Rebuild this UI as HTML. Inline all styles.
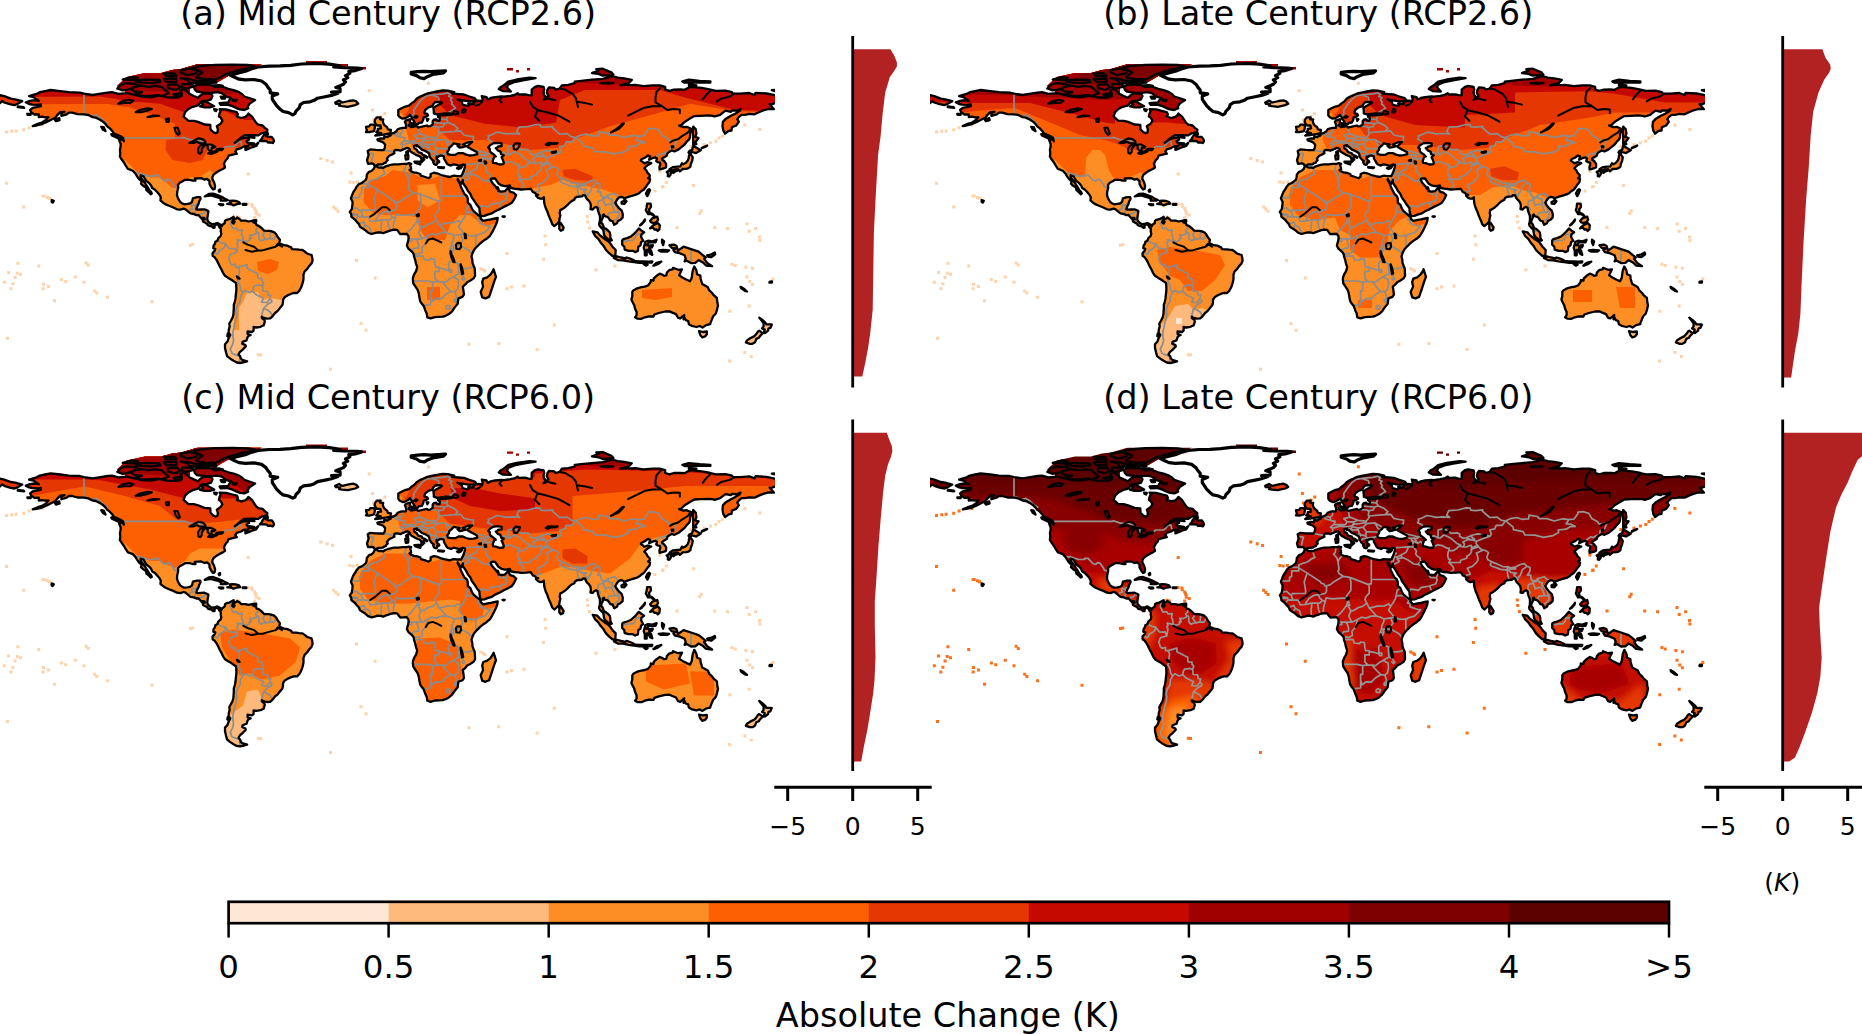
<!DOCTYPE html><html><head><meta charset="utf-8"><title>Absolute Change (K)</title>
<style>html,body{margin:0;padding:0;background:#fff}body{width:1862px;height:1034px;overflow:hidden}svg{display:block}text{font-family:"DejaVu Sans","Liberation Sans",sans-serif;fill:#000}</style></head><body>
<svg width="1862" height="1034" viewBox="0 0 1862 1034">
<defs>
<path id="land" fill-rule="evenodd" d="M50.6,90 60.3,91.1 68.9,92.2 79.7,92.6 84,93.7 92.6,95 99,93.9 107.6,92.6 111.9,92.2 118.4,93.9 127,93.2 135.6,95.2 142.1,96.7 150.7,97.3 155,96.5 159.3,95.4 167.9,97.5 176.5,97.5 180.8,96.7 181.9,93.9 180.2,90.7 184.1,88.7 187.3,91.7 189.4,93.9 193.8,96 198.1,97.8 200.2,95.6 203.4,93.5 211,93.5 212.5,96 211,99.3 206.7,100.8 202.4,100.8 200.2,102.9 198.1,105.3 192.7,106.8 188.4,109 185.1,112.2 183.6,116.5 188.4,120.8 193.8,120.8 198.1,121.9 204.5,124.5 210.3,124.9 210.5,129.4 213.1,132 215.3,133.1 217.4,132.6 217.9,129.4 216.8,126.2 220.7,123.6 222.4,120.8 220.7,117.6 218.9,116.5 219.6,113.3 220.7,111.1 219.6,109.2 226,109.4 232.5,111.1 236.8,112.2 237.9,114.3 236.8,116.5 241.1,118 245.4,116.9 247.6,114.8 248.4,113.5 251.9,116.5 254,119.7 256.2,122.9 258.3,124.7 262.6,125.5 264.8,127.9 267.4,129.8 266.9,132 261.6,133.3 258.3,135.4 251.9,135.2 244.3,135.4 241.1,137.6 236.8,141.2 234.7,142.8 239,139.7 243.3,138 248.6,137.6 249.1,139.5 246.5,141.2 248,143.4 250.8,144.5 255.1,145.1 258.3,142.8 256.2,146 251.9,147.3 248.6,148.8 245.4,149.9 245.4,147.7 248.6,146 243.3,146.6 241.1,148.1 236.8,149.4 235.3,151.6 236.8,153.7 233.6,154.4 228.6,155.7 228.2,156.5 227.5,158.5 226,159.8 225,161.7 223.9,163.8 224.3,164.9 225,167.5 222.8,169 219.6,170.5 217,172 213.6,174.6 212.5,176.8 212.3,178.9 214,182.1 215.1,185.8 214.6,189 213.1,189.5 211.4,187.5 209.5,183.9 209.5,181.1 207.1,178.9 204.5,179.6 201.3,178.1 198.1,178.3 194.8,178.5 195.5,180.6 192.7,180.6 189.4,179.8 185.1,179.8 183,181.1 179.8,182.8 178,184.7 178.2,187.7 177.2,191.8 177,195.5 178.2,198.7 180.2,202 181.9,203.2 184.1,204.3 187.3,203.9 189.9,203.5 192,202 192.9,198.3 197,197.2 200.2,197.2 200.6,198.7 199.1,201.5 198.5,204.1 197.4,205.8 196.3,209.1 197.6,209.7 201.3,209.5 204.5,209.3 208,210.8 208.4,211.4 207.7,215.5 207.3,218.7 207.7,220.9 209.9,223 212,224.3 215.3,223.7 217.4,223 220.7,224.8 221.7,226.3 222.2,225 224.8,223 225,220.9 226.5,219.8 229.3,219.2 232.1,217.7 233.6,216.8 234,218.7 232.9,220.2 236.4,218.5 237.2,217.5 240,219.4 241.1,220.7 245.4,220.7 248.6,221.5 253,220.5 254.2,220.5 253,222 256.2,223.7 256.6,225.2 258.8,225.8 261.6,228 264.1,230.6 268.7,230.8 271.2,231.2 274.3,232.3 276.2,234.2 277.7,237 279.9,239.8 279.4,242.4 279.9,243.5 283.1,244.8 284.2,245.2 287.4,245.7 291.1,247.4 292.1,249.1 296,249.3 299.2,249.7 302.5,250 304.6,251.5 307.2,253.6 310,254.5 311.5,254.9 312.2,257.5 312.6,260.7 311.5,263.5 309.1,266.1 307.2,268.9 304.6,271.5 303.5,274.7 303.5,279 302.9,282.2 301.8,285.7 300.7,288.3 299.2,290.9 297.1,293 293.9,293 291.3,293.7 287.8,295.2 284.6,297.3 283.1,299.5 282.9,302.7 282.4,305.1 279.9,308.1 277.7,310.9 275.1,313 272.5,316.3 270.2,318.4 266.9,318.6 263.1,317.6 261.8,316.7 261.8,318 264.4,319.9 264.8,321.6 263.7,325.3 260.5,326.8 256.2,327.5 253.6,327 253.6,330.7 251.9,332 247.6,331.3 247.6,333.9 250.6,335 248.6,335.9 247.6,337.1 246.5,340.4 242.6,341.9 242.2,343.6 245.4,345.1 245.8,346.4 242.2,350.1 240,351.8 238.5,354.4 240.2,356.3 240.7,358.2 242.2,359.8 247.1,361.3 244.3,362.1 240,363 236.8,362.5 233.6,360.8 230.3,358.7 227.1,356.1 226,352.2 225,347.9 225,344.2 227.5,341.5 228.6,338.2 230.3,335 228.6,332.8 228.8,329.6 229.7,326.4 229.3,323.6 230.8,321 232.5,317.8 233.4,314.5 233.6,311.3 233.8,308.1 233.8,304.9 234.9,301.6 235.5,298.4 235.9,294.1 236.4,289.8 236.2,284.4 235.9,282.9 234,281.6 231.4,279.7 228.2,277.9 225,275.8 223.2,273.2 221.5,269.5 219.6,266.1 218.1,262.9 216.4,259.6 214.2,256.8 212.7,256 212.5,253.2 214.6,250.8 215.3,248.9 213.3,248.2 213.6,245.7 215.1,243.5 215.3,241.8 217.4,240.7 218.3,238.1 220.7,236 221.3,233.8 220.7,231.2 220.9,228.9 219.8,227.8 218.9,226.3 217.9,224.3 215.9,224.6 214.4,225.8 214.6,227.6 213.1,227.8 211.6,226.3 209.2,225.8 207.7,225 207.3,223.9 204.9,222.6 203,221.5 202.8,219.8 200.9,217.7 199.1,215.7 198.5,214.9 196.3,215.1 193.8,214 190.5,213.4 188.8,212.1 185.6,209.3 183.6,208.6 180.4,209.7 177,209.3 173.3,207.5 169,205.8 165.1,204.1 162.5,202.2 160.4,200.4 160.8,197.4 159.7,195.1 157.6,192.5 155,189.7 152.2,188 151.1,185.4 149.2,183.2 146.4,181.1 144.7,178.3 143.6,176.3 140.6,175.3 140.6,177.2 143.2,180.6 145.3,183.7 147.5,186.9 149.2,190.1 151.1,191.8 151.8,193.6 150.7,194.2 149,192.3 146.4,190.1 146,187.5 143.2,185.8 141,183.7 141.7,181.5 138.9,178.9 137.1,176.3 135.4,173.5 132.8,170.7 130.2,169.7 127.9,169 125.3,164.9 123.8,162.3 121,158.5 119.9,156.5 120.3,153.1 119.9,149.9 120.6,146.6 120.6,143.8 119.3,140.6 119,139.3 122.7,139.5 123.8,141.2 123.1,138 120.6,136.3 117.3,134.8 114.1,133.7 112.4,131.1 109.8,128.3 107,126.2 105.5,124 103.3,121.9 100.1,119.7 95.8,117.6 92.6,117.1 88.3,115 84,114.3 77.5,114.1 72.1,112.6 68.9,112.6 66.7,114.3 61.4,115.8 61.4,112.8 64.6,111.8 60.3,112.2 57,115.4 55.5,117.6 50.6,120.1 46.3,122.3 40.9,124.5 36.6,125.5 32.7,126 37.7,123.8 42,122.5 46.3,119.7 48.4,117.1 45.2,117.3 42,116.7 38.8,117.1 38.8,114.3 34.4,114.5 31.2,112.2 30.1,110 32.7,107.9 36.6,107.2 40.9,106.2 40.9,104.4 37,104.9 32.3,104.6 29.1,104 25.8,102.3 30.1,100.8 34.4,100.1 38.8,100.8 35.5,98.6 33.4,97.1 29.1,96.2 32.3,95.2 36.6,93.9 39.8,92.2 45.2,91.1Z M368.1,163.8 367,160.2 368.6,155.2 367.7,150.9 370.3,149.4 375.7,149.9 380,150.1 383.6,150.1 384.9,147.7 385.1,144.5 382.8,142.1 377.8,140.4 377.4,139.3 381,138.4 384.1,138.7 384.3,136.5 387.5,137.2 387.9,136.5 390.7,135.4 390.9,133.9 394,132.8 396.1,131.6 397.6,129.4 400.4,128.3 402.6,127.9 405.8,127.9 406.2,126.2 405.8,124 404.9,121.9 405.8,120.6 409,119.5 410.3,119.3 409.7,121.9 410.8,122.9 409,124.7 408.6,125.5 410.8,126.6 411.2,127.2 413.8,126.6 416.6,126.2 418.3,127.5 421.9,126.6 426.9,125.5 428,126.4 430.1,126.2 432.7,124.5 432.7,121.2 433.8,119.7 436.2,119.3 437.4,120.8 439.4,120.8 440,118 438.1,116.9 438.1,115.8 441.3,115.4 447.8,115.2 452.1,114.5 449.5,113.3 445.6,113.3 441.3,113.9 437,114.5 433.8,113.3 433.8,111.1 433.4,107.9 435.9,106.2 440.2,104 442,102.5 439.6,101.8 435.3,102.1 433.4,104 432.3,106.2 428.4,107.4 425.2,110 424.5,112.2 424.7,113.3 427.3,113.9 428,115.4 426.2,116.5 423.7,117.3 423.2,119.7 421.9,122.5 418.7,122.9 418.1,124.2 415.5,124.2 414.8,122.9 414.4,121.9 412.9,119.7 411.6,116.9 410.3,115.8 410.1,114.8 408,116.7 404.7,118.4 402.6,118.6 399.8,117.3 398.3,115.4 398.3,112.2 398.3,110 401.5,108.3 404.7,106.8 409,105.7 411.2,103.6 414.4,101.4 416.6,98.8 419.8,96.7 423,95.4 427.3,93.5 431.6,92.6 437,91.5 442.8,90.4 447.8,90.7 454.2,92.2 452.1,93.5 458.5,94.1 463.9,94.5 469.3,96.5 474.7,98.2 476.2,99.9 473.6,101 469.3,101.4 462.8,100.3 458.5,99.7 457.5,99.3 461.8,101.8 462.4,104.6 467.2,105.9 469.3,105.1 468.2,103.6 473.6,104.2 473.6,101.8 477.9,100.6 482.2,101 482.7,99.3 481.8,96.2 486.5,97.1 487.6,99.5 490.8,98 495.1,97.1 501.6,96.5 503.8,96.7 510.2,95.8 514.5,95 517.7,93.2 518.8,94.5 525.3,94.3 528.5,95.2 531.7,95.4 531.7,93.7 531.7,91.3 531.7,89.6 535,86.8 538.2,85.9 543.6,87 544.2,89.6 543.6,91.7 544,95 546.2,97.1 543.6,99.7 546.8,98.6 548.5,96 546.8,92.8 547.5,89.6 549,87.4 554.3,87.9 555.4,89.6 559.7,88.5 561.9,85.3 568.3,84.8 574.8,83.1 574.8,81.6 581.2,80.8 592,79.7 602.8,78.8 612,76.2 617.8,77.7 624.3,78.4 631.8,79.9 628.6,83.1 620,85.3 624.3,84.6 631.8,85.1 635.1,84.8 643.7,86.1 652.3,85.3 659.8,85.3 665.2,86.8 665.2,89.6 669.5,90.9 673.8,89.6 680.3,89.4 684.6,89.8 688.9,87.4 691,86.8 701.8,87.9 710.4,89.6 715.8,90.9 725.5,90.7 731.9,92.2 733,93.7 740.6,93.7 749.2,93 754.5,95 755.6,92.8 766.4,93.5 775,95.2 779.3,96.2 785.8,98.6 790.1,99.3 797.2,101.2 792.2,104 789.6,105.1 784.7,104.2 779.3,102.5 777.2,101 775,103.1 771.8,104.4 769.6,104.2 772.8,107.9 773.9,109.2 768.5,109 763.2,110.5 758.9,112.2 754.5,114.3 749.2,113.9 744.9,114.8 741.6,114.8 739,116.9 737.3,119.1 738.8,121.9 736.2,125.5 731.9,127.2 731.5,130.5 728.7,130.9 725.1,133.7 723.3,130.5 722.5,126.2 722.9,121.9 725.5,119.1 730.9,115.8 735.2,113.7 739.5,111.1 740.6,109 737.3,110.7 731.9,110.5 730.9,111.8 725.5,110.7 720.1,114.8 714.7,116.5 712.6,115.8 708.3,115.4 700.7,115.8 694.3,116.1 690,118.6 684.6,121.9 681.4,125.1 679.2,125.7 683.5,127.2 686.7,126.8 690,128.3 691.9,129 691,130.9 690.2,133.7 690,136.9 689.3,139.1 686.7,141.7 684.6,144.5 681.4,147.1 678.6,149.4 674.5,151.4 671.7,150.5 669.1,152 667.4,153.5 666.7,155.7 663.7,157.4 662,158.7 662,159.5 664.1,161 666.1,163.8 666.1,166 665.9,167.5 664.1,168.2 662,168.8 659.6,169.4 659.4,167.1 660.3,164.5 660,162.6 657.7,162.1 656.2,161 657,158.5 655.3,157.4 652.3,158.2 649.1,159.8 650.1,156.3 648,155.5 644.8,157.8 641.5,159.3 640.9,160.6 643.2,162.3 644.3,163.4 647.6,162.1 651.2,163.2 648,164.9 646.5,166 644.3,168.2 646.3,170.3 647.6,172.9 649.7,175 649.7,177 648,178.1 650.1,179.1 649.5,182.1 647.6,184.3 645.4,187.5 643.7,189.7 641.5,191 639.4,192.9 637.2,194.2 633.6,195.3 630.8,196.1 627.5,197.2 625.4,197.9 624.7,199.8 623.7,197.6 621.1,196.8 618.9,197.6 617.2,199.4 615.3,202.6 616.8,205.4 618.9,208 621.7,210.6 622.8,214.4 622.6,217.7 620.4,219.8 617.8,221.1 617.2,223 614.2,224.8 613.1,222.4 612.5,221.1 610.3,220.7 608.8,218.3 607.5,217 604.7,216.2 603.9,214.4 602.8,215.1 602.8,217.7 601.7,219.8 601.1,222.6 602.6,224.1 603.4,226.3 604.1,228 606,228.9 607.7,230.2 609.7,232.3 610.3,234.9 610.3,237.5 611.8,240.3 610.5,240.7 608.2,239.2 605.6,237.3 604.1,234.9 603.6,231.7 603.2,229.5 601.9,228.4 599.5,225.8 599.1,224.1 599.8,221.3 600,218.3 599.8,215.5 598.9,213.4 598,210.6 597.6,208 596.1,206.9 594.2,207.8 592.7,209.5 590.5,209.1 590.9,205.8 590.3,203 589,200.9 587.3,199.4 586,197.6 585.1,195.3 583,195.1 581.9,196.4 579.1,196.6 576.9,196.8 574.8,198.3 574.4,199.8 571.6,201.1 569.4,203 567.3,205.2 564.7,207.5 562.3,209.1 560.2,210.1 559.7,213.4 560.4,215.3 559.5,218.7 559.3,221.3 557.6,223.3 556.1,224.6 554.3,226.1 552.2,224.1 551.1,220.9 549.6,217.7 548.3,214.4 547.2,211.2 545.7,208 544.7,204.8 544.2,202.6 544,199.4 543.8,197.2 542.9,198.3 540.3,198.7 538.2,197.9 536,195.7 538.2,194.8 536,194.2 535,192.9 532.8,192 531.7,190.1 530.7,188.8 526.4,189.2 521,189.5 517.7,189 514.1,188.6 510.9,188 509.8,185.4 507,186 504.8,186.2 501.6,185.4 498.4,183.4 496.9,181.1 495.1,178.5 492.8,178.3 490.8,178.9 490.8,180 492.1,182.6 494.1,184.9 495.6,186.5 496.9,188.6 497.7,187.3 498.6,189.2 498.4,191 501.6,191.6 504.8,191.2 507,189 508.5,187.1 509.1,189.7 510.2,191.8 513.4,192.7 516.2,195.1 514.1,199.4 511.9,202.6 510.2,203.7 507,205.4 503.8,206.9 499.9,209.1 495.1,211.2 491.9,213.4 487.6,214.7 484.4,215.9 481.1,216.2 480.1,213.8 479.6,211.2 479.4,208 476.8,204.8 474.7,201.5 471.9,197.6 470.4,194 467.8,190.8 466.1,187.5 463.9,184.3 462.8,182.8 462.8,180 461.8,182.8 461.3,183.7 459.6,182.1 457.7,178.9 457.7,180 459.6,183.2 460.7,186.5 462.8,190.8 464.4,194 466.9,196.1 467.8,198.7 467.8,202.6 470.4,204.8 472.1,209.1 473.6,211.2 476.2,213.4 478.8,215.5 480.7,216.8 480.7,218.7 483.3,220.9 486.5,220.2 490.8,219.4 495.1,218.5 497.7,217.9 497.3,220.9 496.2,224.1 494.1,228.4 491.9,232.7 489.8,236 486.5,238.8 483.3,240.9 480.1,243.5 477.9,245.7 475.8,247.8 474,250 472.5,253.2 471.5,256.4 472.3,259.6 472.5,262.9 473.6,265.7 474.7,268.3 474.9,271.5 475.1,275.8 473.6,278.4 470.4,280.5 467.2,282.2 465.4,284.4 462.8,286.6 463.5,290.9 463.9,294.7 462.4,296.9 458.5,298.4 458.1,300.5 457.7,303.8 456,305.9 454.2,308.1 452.1,311.3 448.9,314.1 445.6,315.8 442.8,316.7 439.2,316.9 434.9,317.1 430.6,318.4 427.3,317.3 426.7,313.5 425.2,310.2 423.7,305.9 421.9,303.8 420.2,301.2 419.4,297.3 418.7,293 417.6,289.8 415.5,286.6 413.3,283.3 412.9,280.1 412.9,277.9 414,274.7 416.1,271.1 417.2,267.2 415.9,263.3 415.1,259.6 414,256.4 413.8,254.3 412.9,252.8 411.2,251 408.6,248.9 406.9,245.7 407.5,243.1 408.2,240.9 408.6,238.1 408.4,236 406.7,233.8 403,234 400.4,234.2 399.1,232.7 397.2,229.9 394,229.7 390.7,230.4 388.6,231.2 385.3,232.3 383.2,233.2 380.6,232.5 377.8,232.3 374.6,233.2 371.4,234 368.1,232.7 364.9,229.9 362.7,228.6 359.9,226.7 358.9,224.1 356.3,221.3 355.2,219.8 353.1,218.1 351.3,216.6 351.3,214.4 349.8,211.9 351.8,209.1 352.4,204.8 352.6,202 350.9,198.3 352.4,194.4 353.5,191.8 355.6,188.6 356.5,186.9 358.9,184.1 361.7,183 363.8,181.5 366,179.6 366.6,177.2 366.8,174.6 369,171.8 371.4,171 373.5,169.2 374.8,166.4 376.1,166.2 378.9,167.7 381.3,167.5 383.2,167.9 385.3,166.6 388.1,165.6 390.7,164.9 394,164.3 398.3,164.3 402.6,163.8 406.4,163.8 409,163.2 411.2,163.8 410.1,165.4 410.8,167.1 411.2,169.2 409.5,169.9 411.2,171.4 414.4,172.7 416.1,172.7 420.2,174 420.9,175.7 425.2,177 428.4,178.3 430.6,176.8 430.6,174 433.8,172.7 437,173.3 441.3,175 445.6,176.1 449.9,177 452.1,176.1 454.2,175.7 457,176.1 461.1,176.1 462.6,173.5 463.9,170.3 464.8,167.1 465,164.9 462.8,164.5 459.6,165.8 456.4,164.9 453.4,164.3 451,165.6 447.8,164.5 446.3,162.8 445.2,160.6 443.9,158.5 443.9,157 443.5,156.1 441.3,155.5 439.2,155.9 438.1,157 436.6,156.5 436.6,158.9 437.7,160 439.2,161.3 439.2,162.3 437.4,161.9 437.4,163.2 436.6,164.7 435.7,164.9 434.2,164.3 433.1,162.1 433.8,161 432.3,160 431,158.5 429.5,156.3 429.3,154.2 428.4,152.7 425.2,150.9 421.9,149.6 419.8,147.7 418.1,146.2 416.8,146.4 417,145.1 414,145.8 414.2,148.1 416.8,149.9 418.1,152.2 421.9,153.3 421.9,154.4 425.2,155.7 427.3,157.2 426.9,157.8 424.1,156.3 423.2,158.2 424.3,159.5 423,160.8 421.9,161.9 421.3,161.5 421.5,159.5 420.9,157.4 419.4,156.1 418.1,155.7 415.5,154.6 413.8,153.5 411.2,152 410.1,150.9 409.5,149 408,148.1 406.4,147.9 404.7,149 403.2,149.4 400.4,150.7 398.3,150.1 396.1,149.9 394.4,150.5 394.2,152.2 394.4,153.3 392.2,154.4 389.2,155.7 387.5,157.8 386.9,158.7 387.7,160.2 386.2,161.5 385.8,162.6 383.6,163.4 382.8,164.3 378,164.5 376.1,165.8 374.2,165.1 373.5,163.8 371.6,163.4 368.6,163.8Z M-8.6,93.5 0,95.2 4.3,96.2 10.8,98.6 15.1,99.3 22.2,101.2 17.2,104 14.6,105.1 9.7,104.2 4.3,102.5 2.2,101 0,103.1 -3.2,104.4 -5.4,104.2 -2.2,107.9 -1.1,109.2 -6.5,109 -11.8,110.5 -12.9,101.4Z M255.1,100.1 249.7,103.6 247.6,106.8 248.2,108.3 244.3,110 240,109.4 236.8,108.3 232.5,106.2 227.1,104.6 220.7,104.9 219.6,103.1 228.2,102.5 229.3,100.3 231.4,98.2 226,96.5 221.7,93.2 217.4,92.2 212,92.8 204.5,92.8 197,91.7 194.8,89.6 193.8,86.3 198.1,84.6 204.5,84.6 211,84.8 214.2,86.8 219.6,86.3 222.8,86.8 228.2,88.9 233.6,90.2 239,92.2 242.2,94.3 244.3,96.5 250.8,98.6Z M161.5,96 169,93.2 165.8,90.7 161.5,86.8 155,85.9 148.5,86.8 141,85.7 133.5,87.2 131.3,89.6 134.5,91.5 142.1,92.2 135.6,93.9 137.8,95.2 143.2,96 150.7,95.8 157.2,95.2Z M117.3,88.5 120.6,84.8 125.9,83.1 134.5,83.8 138.9,85.3 131.3,88.5 127,89.8 122.7,90.4Z M215.3,79.5 219.6,77.7 225,74.5 232.5,72.1 241.1,69.6 249.7,68 255.1,66.3 247.6,65 232.5,64.6 215.3,64.8 200.2,66.1 191.6,68 198.1,70.2 202.4,72.4 198.1,75.2 195.9,77.7 204.5,79Z M180.8,70.2 189.4,68.7 198.1,70.6 195.9,73.4 187.3,75.2 180.8,72.4Z M180.8,78.2 189.4,78.8 195.9,81 204.5,80.5 215.3,80.8 216.4,82.7 208.8,83.1 198.1,83.1 189.4,82.7 187.3,79.9Z M181.9,84.2 192.7,84.2 192.7,86.8 186.2,88.5 181.9,87.4Z M167.9,84.6 177.6,84.6 179.8,87.4 175.5,90 167.9,88.1Z M135.6,80.3 146.4,79.5 159.3,79.9 160.4,82 150.7,83.1 142.1,82.5 135.6,81.6Z M163.6,78.8 176.5,78.6 176.5,82 165.8,81.6Z M122.7,79.5 131.3,77.1 137.8,77.7 133.5,79.9Z M163.6,73.4 174.4,73.4 176.5,76 165.8,76Z M173.3,94.5 180.8,93.2 181.9,95.8 175.5,96Z M200.2,101.8 205.6,101.4 211,104.4 214.2,106.2 209.9,107.4 204.5,107.4 200.2,106.4 203.4,104.6Z M259.8,141 261.6,139.1 262.6,136.9 264.8,134.1 267.4,132.4 268,134.4 265.9,135.9 268,136.9 271.7,136.9 273.4,139.1 274,141.2 272.8,143 270.2,142.3 268,142.5 266.9,141.2 263.7,141Z M111.3,134.1 116.2,134.8 118.8,136.5 121.6,138.4 121.6,139.5 118.4,138.4 115.2,136.9 111.9,135.4Z M101.2,126.8 103.8,127.2 105.5,131.1 102.7,129.4Z M54.9,119.7 59.2,118 59.6,120.1 56,121.2Z M204.7,196.4 208.8,194 213.1,193.6 217.4,195.1 221.7,196.8 225,198.7 227.8,200 226,200.7 220.7,200.7 221.3,199.2 218.5,197.6 214.2,196.4 211,195.5 207.7,195.9Z M227.3,203.9 231.4,204.3 233.6,205.4 236.8,204.1 240.2,203.7 239,202 235.7,200.9 232.5,200.7 229.7,200.9 231,202.6 229.3,203.5Z M218.9,204.1 223.2,204.3 223.2,205 220.7,205.2Z M242.8,203.9 246.3,203.9 246.3,204.8 242.8,204.8Z M335.2,102.5 339.1,100.6 342.3,102.5 348.8,101 353.1,100.3 356.3,101.4 358.2,103.6 355.2,105.1 347.7,106.8 342.3,106.2 339.1,105.7 340.1,104 335.8,103.8Z M375.2,135.6 380,135.2 384.3,134.4 390.3,133.5 390.9,130 387.9,129.4 387.1,127.2 384.3,125.1 383.2,122.9 382.8,120.8 383.2,119.5 380,119.3 380.6,117.3 376.7,117.3 375,119.7 374.6,121.9 375.7,124 377.2,125.5 380.4,125.5 381,128.3 377.8,128.8 377.8,130.5 376.3,132 380,132.8 381,133.1 377.8,133.7Z M366,132 369.2,132.2 373.9,131.1 374.6,128.8 375,126.2 373.5,124.7 370.3,124.7 369.2,126.4 366,126.8 366.4,128.8 367,130.5Z M498.8,89.1 502.7,91.1 510.9,91.5 507,87.4 508.1,84.6 514.5,82 523.1,80.3 535.6,78.2 529.6,77.7 516.7,79.5 508.1,81.6 503.8,85.3 500.5,87.2Z M592,73 598.5,70.6 596.3,69.1 602.8,68.7 611.4,72.4 613.5,74.7 602.8,75.6 598.5,73.9Z M682.4,81.4 688.9,79.7 699.7,80.8 710.4,81.4 710.4,82.5 699.7,82.3 688.9,82.5 684.6,82.7Z M688.9,84.4 696.4,85.3 693.2,85.9 688.9,85.5Z M771.8,90.2 778.2,89.6 780.4,90.7 775,91.1Z M693.2,126.6 695.8,129.4 696.4,133.7 695.3,136.9 698.6,138 695.3,142.3 696.4,144 693.2,144.5 693.2,140.2 693.2,135.9 692.8,131.6Z M689.5,154.2 692.1,152 696,153.1 700.7,150.3 698.1,148.8 693.2,145.8 692.1,149.9 689.5,150.9 688.5,152.4Z M690.8,154.4 692.8,157.4 692.1,161 690.8,164.1 690.4,166.6 688.5,168.2 686.3,168.8 682.4,169 682,169.7 679.8,171.4 678.1,169.2 674.9,169.4 671.7,170.5 669.5,170.3 669.5,169.2 672.7,167.1 677,166.6 680.3,166.4 682,163.2 683.1,164.3 685.7,163 687.8,160.6 688.9,157.4 688.9,155.7Z M669.3,170.5 671.2,171.8 670.6,174.6 669.1,176.5 667.8,176.1 668,173.5 666.7,172Z M672.7,170.3 677,169.9 677,171 674.9,171.6 673.4,172.9 672.3,171.6Z M649.1,189.2 650.1,190.1 648,195.1 647.3,196.1 646,193.6 647.6,190.3Z M621.5,202 625.4,200.2 626.5,201.3 624.3,203.9 621.7,203.7Z M647.1,203.7 650.6,203.7 651,206.9 649.1,209.5 649.5,212.7 652.3,213.8 654.4,215.9 652.9,215.5 651.2,214 648,214 647.1,212.3 645.8,210.1 646.5,208Z M650.1,228.4 653.4,225.2 657.7,223 659.8,225.2 659.4,229.5 657.7,231 656.6,229.5 654.4,229.5 652.9,227.4Z M652.3,218.3 657.2,216.6 658.1,219.8 656.6,222 653.4,223 651.2,222.4 650.1,220.9Z M640,225.4 643.2,222 645,219.4 644.5,221.3 641.5,224.6Z M622.2,240.3 623.4,239.2 627.1,238.1 630.8,236.6 634,233.8 636.1,231.7 638.9,228.4 641.5,230.6 644.1,232.3 641.5,234.2 641.1,237 643.2,240.9 641.1,242 640.5,245.2 638.3,246.7 637.9,251 635.1,252.1 632.9,250.8 628.6,250.8 624.7,249.7 624.3,246.7 622.2,244.6 622.2,242.4Z M592.7,231.4 597.4,232.3 599.5,234.9 602.8,237.5 604.9,239.2 608.2,241.3 610.3,243.5 612.5,246.7 615.7,250 615.3,256 612.5,256 609.2,253.2 606,250 603.4,245.7 600.6,242.4 598.5,239.2 595.2,236Z M614,258.1 616.8,256.4 621.1,257.5 625.4,258.4 626.5,257.5 630.1,258.6 634,260.3 633.8,262.2 628.6,261.4 623.2,260.3 617.8,260.1Z M645.4,241.8 648,240.7 652.3,241.3 656.6,239.8 655.5,242.4 649.1,242.4 646.3,245.2 649.1,245.7 652.9,245.2 651.9,247.4 649.1,247.8 651.2,251 652.3,254.9 650.1,253.8 648,250 646.7,250 646.7,255.3 644.8,255.3 644.8,251 643.7,247.8Z M669.5,245.2 673.8,244.6 676.4,245.7 678.1,250.6 683.5,246.7 691,249.1 698.6,251.7 701.8,254.3 705.7,257.5 704,258.6 707.2,262.9 712.1,266.1 706.1,265.5 702.9,262.4 698.6,260.1 695.3,262.9 691,263.1 686.7,260.7 684.6,261.4 685.7,258.6 684.6,255.3 679.2,253 674.9,252.1 673.4,250 675.5,248.5 671.7,247.8Z M653.4,265.7 656.6,262.9 661.3,261.6 657.7,264.2 654.4,265.5Z M635.1,261.2 639.4,261.4 643.7,261.4 648,261.6 652.3,261.4 651.9,262.7 645.8,262.7 639.4,262.9 635.5,262.4Z M643.7,264 647.6,264.8 645.8,265.7Z M662,239.6 664.1,241.3 663.1,245.2 662,242.4Z M658.8,250.4 663.1,250 669.1,250.4 667.4,251.5 660.9,251.5Z M707.2,255.3 711.5,254.3 714.7,252.5 715.2,254.3 711.5,257.1 708.3,256.8Z M559.3,222.6 560.4,222.6 563.6,227.4 563,229.7 560.8,230.8 559.3,228.9 559.3,225.6Z M493.6,269.3 496,276.9 494.7,280.1 493.6,283.3 491.5,289.8 489.1,296.9 485.5,298.4 482.2,297.3 480.7,291.9 483.1,286.6 482.2,282.2 483.3,278.6 487.2,277.3 490.4,274.7 492.6,271.5Z M633.3,290.4 637.2,288.3 641.5,287.2 644.8,286.6 648,285.5 650.6,282.2 650.8,280.1 653.4,280.7 653.8,278.4 656.6,275.8 659.8,273.6 662.6,274.7 663.7,275.8 666.3,275.4 666.9,272.6 669.1,270.2 672.7,269.3 673,267.8 678.1,269.8 682,269.3 680.3,272.6 679.2,275.4 682.4,277.5 686.7,279.7 690,281.2 691.7,277.9 692.3,273.6 692.8,270.4 694.3,266.5 696.4,270.4 697.1,274.3 700.3,275.6 700.7,279 702.2,284 705,285.5 707.8,287.2 709.3,290.4 712.1,293 713.6,295.2 716.9,298 717.3,302.3 718,305.3 716.9,310.2 715.8,313.5 713.2,316.3 711.9,319.3 710.4,323.2 710.2,324.2 706.1,325.1 702.5,327.5 699.7,326 696.4,327 692.1,326 688.9,324.2 688.2,321 685.7,320.1 684.6,317.8 683.5,319.3 684.2,315 680.3,318.4 678.1,317.8 676,314.1 671.7,312.4 669.5,311.3 665.2,311.5 658.8,313 654.4,314.5 653.4,316.5 649.1,316.3 644.8,317.3 641.5,318.8 637.2,318.6 635.1,317.3 636.6,315.2 636.6,312 635.1,308.7 634.2,305.1 632.9,302.7 631.4,299.5 632.3,296.2 632.3,291.9Z M699,331.1 702.9,332 706.8,331.5 706.8,334.3 705,336.5 702.2,337.4 700.3,335Z M759.3,317.6 762.7,320.1 765.3,322.5 766.4,324.4 770.7,324.4 771.8,324.7 770.3,327.9 768.5,328.5 768.1,330.7 764.9,333.1 763.8,332.4 764.7,329.6 762.1,328.5 763.6,326.4 763.6,323.2 761,319.9Z M759.3,330.7 762.7,333.3 759.9,336.1 758.9,337.8 756.3,338.9 755,342.3 752.4,343.8 749.8,343.8 745.9,342.5 747,340.4 750.2,338.2 754.5,336.1 756.7,333.5 758.2,331.3Z M740.6,286.8 743.8,288.7 747,291.5 744.9,290.9 741,288.1Z M769.6,281.8 772,281.4 771.8,282.7 769.4,282.7Z M51.7,200 53.8,200.9 52.7,202.6 51.7,202Z M414.4,161.7 421.1,161.3 420.2,164.5 415.5,163Z M405.2,155.5 408.4,155.2 408.2,159.1 405.8,159.5Z M406.2,152 408,150.9 408,153.9 406.4,153.9Z M438.1,167.1 444.1,167.5 443.5,168.2 438.3,167.7Z M457,168.2 459.6,167.3 462,166.6 460.7,168.2 458.5,169Z M411.2,123.6 414.4,122.9 414.4,124.7 412.3,125.1Z M426.7,118.9 428.4,119.1 427.3,120.8Z M502.5,216.4 504.8,216.4 503.8,217Z M254.5,220.5 256.2,220.2 256.2,221.8 254.5,221.8Z M218.7,190.5 220,189.5 220.2,191.4 219.2,191.8Z M227.8,333.5 229.3,333.9 229.1,336.9 227.3,336.1Z M248.6,136.1 254,137.2 254.5,137.8 250.8,137.4Z M249.1,142.8 254,143.4 253,144.5 249.7,143.8Z M220.7,96.7 225,97.1 225,98.6 221.7,98.6Z M213.1,85.3 219.6,85.1 222.8,85.9 215.3,87Z M214.2,109.2 216.8,109.6 216.1,111.1 214.6,110.5Z M17.9,106.4 23.7,107.2 24.1,107.9 17.7,107.2Z M27.3,113.9 30.8,113.7 30.6,114.8 27.6,114.8Z M701.8,147.7 707.2,145.5 706.1,146.4 701.8,148.3Z M493,143.4 497.3,142.8 501.6,143.4 501.6,146 497.9,146.6 497.3,147.7 495.8,148.1 497.9,150.5 500.5,151.6 501.2,154.2 503.8,155.2 501.6,157.4 502.7,159.5 503.8,162.8 503.3,164.1 499.4,164.5 495.8,163.2 493,162.8 492.8,160.8 494.1,157 495.8,156.5 493.4,154.2 490.8,152.4 489.8,150.9 489.8,148.8 488.2,147.5 489.8,145.5Z M447.8,154.2 447.3,152 448.9,149.9 449.3,147.7 451.4,146 453.8,143.4 456.4,144 459.6,144.5 457.5,145.8 459.6,147.7 462.8,147.1 466.1,146.2 462.8,144.5 468.2,142.3 472.1,141.9 469.3,144.5 468.2,145.5 467.2,146.4 468.2,147.3 471.5,149.2 474.3,150.7 476.8,152 477.3,154.2 473.6,155.2 469.3,155.5 466.1,154.6 462.8,153.1 458.5,153.1 455.3,154.8 451,154.8Z"/>
<path id="nodata" d="M292.8,114.8 288.5,112.6 283.1,111.5 279.9,109 276.6,105.7 274.5,102.5 272.3,99.3 272.3,96 277.7,93.9 270.2,92.8 270.2,90 268,87.4 265.9,84.2 261.6,81 254,79.5 245.4,79.9 239,79.2 234.7,77.3 230.3,75.2 236.8,73.4 245.4,71.3 251.9,68.7 258.3,67 269.1,66.1 279.9,65.9 290.6,65.3 301.4,64 316.5,63.5 329.4,64.2 340.1,65.9 333.7,67 344.4,67.6 357.4,68 361.7,68.5 355.2,70.6 348.8,71.3 349.8,73.4 345.5,75.6 347.7,77.7 343.4,79.9 345.5,82 343.4,84.2 340.1,85.7 335.8,87.4 340.1,88.5 340.1,90.7 340.1,91.7 331.5,92.2 338,93.2 331.5,95.4 325.1,96.7 317.5,98.2 314.3,100.3 310,101.8 303.5,102.5 300.3,104.6 299.2,107.9 296,111.1 294.9,113.7Z M411.2,72.4 417.6,71.7 424.1,71.3 430.6,71.7 445.6,70.8 443.5,72.8 432.7,74.5 427.3,76.7 424.1,78.6 419.8,77.7 416.6,75.6 411.2,73.9Z"/>
<path id="fillx" d="M117,86 127,77 145,73 161,73 172,70 181,69 198,64 262,64 252,69 230,75 218,82 200,84 190,84 190,99 125,99 125,90Z"/>
<path id="lakes" d="M189.4,143 194.8,140.2 198.1,138.4 202.4,139.1 205.2,141.2 205.6,143.4 202.4,143.2 199.1,143 197,141.7 193.8,143Z M198.5,153.1 198.1,148.8 200.2,145.5 203.4,144.5 204.5,145.5 201.7,148.8 201.7,152 200.2,153.7Z M205.6,144.5 211,144.5 215.3,146.6 214.2,147.7 211.6,147.7 211.6,150.5 209.9,150.9 207.7,148.8 207.7,146.2Z M208.2,153.5 212,153.9 217.4,151.6 216.4,151.1 212,151.8 208.8,152.7Z M215.9,150.3 221.7,150.3 223.2,148.8 219.6,148.8 216.4,149.4Z M118.4,103.6 122.7,101 129.2,99.7 133.5,100.8 130.2,102.9 124.9,102.9Z M135.6,112.2 139.9,110 147.5,108.3 151.8,109 146.4,110.9 141,112.2Z M174.4,127.7 177.6,127.7 179.8,133.7 178,135 175.5,131.6Z M147.5,117.1 152.8,115.6 159.3,115.8 152.8,116.5Z M456,244.6 457.5,242.9 460.7,243.1 461.1,246.7 459.6,249.3 456.4,248.9Z M450.6,251 451.7,254.3 453.6,258.6 454.7,262.2 453.4,262 451.4,257.5 450.4,253.2Z M460.7,264.2 462.2,268.3 463.3,273.6 462,274.1 461.1,269.3 460.5,265Z M611,132.4 614.6,130.9 618.9,128.8 622.2,125.5 623.9,123.4 622.2,123.8 618.9,127.2 615.7,129.4 612,131.8Z M545.7,144.5 549,142.8 553.3,143.2 557.6,143 556.5,143.8 551.1,144 547.9,145.3Z M513.4,145.5 515.6,143.2 519.9,143.6 519.2,146.6 516.7,149.6 513.9,149.2Z M452.5,113.7 454.2,110.9 458.1,112 458.1,113.7 455.3,114.5Z M461.8,112.2 463.5,108.7 465.6,110 465,112.2 463.5,112.6Z M414.2,117.3 415.9,115.8 417.6,116.7 415.9,117.8Z M236.8,276.4 238.3,277.1 239.6,278.6 237.9,278.4Z M202.6,217.7 204.5,217.9 204.9,219.4 203,219Z M416.6,214.9 418.7,214.2 418.9,215.9 417.2,216.4Z M464.6,233.6 465.6,234.2 466.3,238.1 465,238.1Z M551.5,152.2 556.1,151.4 555.8,152.4 552.2,152.9Z M484.4,161.3 485.9,161.5 486.3,163.4 485,163.6Z M478.8,160.4 481.1,159.8 480.9,161 479.2,161Z M165.8,119.1 169,118.6 168.8,121.9 166.6,121.9Z M232.5,99.7 236.8,99.9 235.7,101.2 232.9,101Z M600.6,83.1 607.1,82.7 613.5,83.1 607.1,83.8Z M671.7,146.2 673.4,146.2 673.4,147.5 671.9,147.5Z M232.9,220.2 234.7,222 233.6,223.7 232.1,222.4Z"/>
<path id="rivers" d="M278.8,244.6 275.6,246.7 269.1,248.5 262.6,250.4 258.3,250.4 251.9,251.7 245.4,250 M258.3,250.4 254,246.7 247.6,244.6 243.3,242.4 M275.6,246.7 277.7,243.9 M282,246.7 278.8,244.6 M530,101.6 532.8,106.8 538,110.2 546.8,112.2 557.4,115.2 564,118.6 569.4,121.7 M537.1,111.1 535,116.5 539.3,120.8 M544.7,96 546.8,98.2 551.1,99.3 555.4,100.3 M565.1,89.6 569.4,92.2 572.6,93.9 575.9,98.2 576.9,102.3 578,107 M576.9,101.8 585.6,103.1 592,104.6 M559.7,88.5 565.1,89.6 M660.5,87.6 656.6,91.7 655.5,97.1 655.5,102.3 662,106.2 667.4,110 673.8,109 679.8,109.4 679.8,113.3 M662,106.2 652.3,106.2 644.3,107.7 635.1,112.2 628.2,115.6 M690.6,128.8 687.8,132.6 682.4,135.9 678.1,139.1 672.7,140.8 670.2,142.5 M734.1,93.9 729.8,96.5 721.2,98.6 716.9,101.4 M710.4,90.7 706.1,95 702.9,99.3 M425.8,243.5 428.4,239.6 432.7,238.5 437,240.3 441.3,242.4 M370.3,216.6 374.6,213.8 378.9,210.1 382.1,207.3 386.4,207.3 389.7,210.1 M482.2,101.8 479,104.6 475.8,105.7 M501.6,97.5 499.4,100.3 501.6,102.5"/>
<path id="borders" d="M84,93.7 84,113.7 88.3,114.3 91.5,116.5 95.8,115 100.1,117.6 104.4,121.9 107.6,123.4 106.6,125.7 M122.3,138 182.6,138 183.4,137.4 189.4,139.5 194.8,140.2 198.1,139.7 204.9,142.8 207.7,144.5 209.9,146 210.3,150.9 208.8,153.1 217.4,151.4 217.4,149.9 222.8,148.8 226,146.6 233.6,146.6 235.7,145.1 236.8,143.4 238.5,141.5 241.1,141.7 241.5,144.9 243.3,146.6 M135.4,173.5 140.4,173.3 148.5,176.1 154.6,176.1 154.6,175 158.2,175 162.5,179.8 165.8,181.1 167.3,179.3 170.1,179.8 173.3,184.3 174.4,186.7 178.2,187.7 M189,212.1 189.4,210.8 190.1,209.1 192.7,208.8 191.6,206.5 191.6,205.2 195.5,205.2 197.4,203.7 M195.5,205.2 195.5,209.3 197.6,209.7 M193.5,213.8 195.3,212.5 195.5,209.3 M198.7,215.5 200.9,213.8 203,213.6 204.9,211.6 208.4,211.4 M203,219.6 207.3,220 M209,226.1 209.7,222.8 M219.8,227.8 221.1,225 M234,218.1 231.4,219.8 230.3,223.7 231.9,226.3 232.5,228.4 236.8,228.4 237.9,230.4 242.2,230.2 241.5,233.8 242.6,236.4 243.3,240.9 237.2,239.8 237.9,242.2 236.8,243.5 237.9,245.7 236.8,252.5 M217.4,240.7 219.6,241.8 221.7,242.9 225,243.5 225.4,243.7 229.3,248.5 231.4,248.7 235.1,248.5 236.8,252.5 230.3,254.3 228.8,258.6 230.3,263.3 232.1,265 235.5,264 235.5,267.2 237.9,267.2 239.6,270.4 239,274.7 237.9,276.9 239,279 237.7,281.2 240,285.5 240.7,289.8 242.8,292.6 240.5,296.2 240,301.6 237.2,305.9 236.2,310.2 236.8,314.5 236.2,318.8 234.7,323.2 234,327.5 232.9,331.8 232.9,336.1 233.6,340.4 232.5,344.7 230.3,349 231.9,353.3 236.8,355.4 240.2,356.3 M214.6,250.8 214.6,253 216.8,254.3 218.5,253.2 218.9,250.8 222.4,249.1 225,246.7 225.4,243.7 M239.8,357 239.8,361.7 M237.9,267.2 241.1,266.5 246.9,264.6 246.9,268.3 251.9,270.8 255.1,272.6 257.7,273.6 257.9,278.4 262,278.6 262,280.7 263.7,282.7 262.6,286.1 260.3,285 254.7,285.7 253.4,287.6 252.7,291.3 249.1,292.6 244.8,290.4 242.8,292.6 M252.7,291.3 256.2,294.7 261.6,297.3 263.5,298.2 261.6,302.1 265.9,302.5 267.4,302.3 270,298.6 270.6,295.4 268.2,295.2 267.6,291.5 263.1,291.1 262.6,286.1 M270,298.6 271.7,300.5 271.7,302.1 267.4,304.6 263.5,308.5 262.2,313.5 261.8,316.7 M263.5,308.5 266.9,309.8 270.2,312 272.5,316 M243.3,240.9 246.5,241.8 249.7,240.3 249.3,238.1 251.2,238.5 249.7,234.9 252.3,235.3 256.2,233.8 256.8,232.3 255.5,230.6 257.7,228.4 258.3,225.6 M256.8,232.3 258.3,232.7 258.8,234.2 258.8,238.5 260.9,240.7 264.8,239.4 265.9,239.4 270.2,238.5 274,238.8 276.2,234.5 M264.1,230.6 264.4,232.7 262.6,234.9 263.7,236.4 265.9,239.4 M271.2,231.2 270.4,233.8 270.2,238.5 M382.8,167.9 383.8,171.4 384.9,174 381,175.7 379.5,177.2 376.7,178.9 372.4,180 368.8,181.7 368.8,184.5 377.2,189.7 390.1,198.1 391.4,199.8 394.4,200.9 394.6,202.6 396.5,202.4 400,201.5 403.6,198.7 413.3,192.9 M368.8,183.9 359.1,183.9 M368.8,184.5 368.8,187.5 361.7,187.5 361.7,193.1 359.5,194 359.5,197.6 350.9,197.6 M377.2,189.7 374.2,198.3 375.7,208 375.4,210.1 367.5,210.1 364.5,210.3 362.7,209.9 361.2,211.6 359.5,210.6 356.3,207.8 352,209.1 M406,164.1 405.2,169.2 403.6,170.7 406.9,174.6 408,178.3 408.6,182.6 409,186.5 408,187.5 409,190.1 413.3,192.9 419.8,194 439.2,201.5 439.2,200.4 441.3,200.4 441.3,196.1 441.3,175.5 M408,178.3 409.7,175 412.3,172.2 M441.3,196.1 466.9,196.1 M419.8,194 420.9,198.3 420.9,206.9 416.6,212.3 416.6,214.4 409,214.9 402.6,215.5 396.1,214.4 395.2,218.3 M396.5,202.4 396.5,208 395,210.1 389.7,211.2 387.9,211.2 383.2,212.3 378.9,215.1 375.7,219.8 375.7,221.1 370.3,221.5 368.1,216.8 363,216.8 361.2,211.6 M387.9,211.2 389.7,214.4 392.5,217 395.2,218.3 393.5,224.1 393.3,229.7 M375.7,221.1 381.5,219.8 387.5,219.8 389.7,219.8 392.5,217 M381.5,232.5 381,226.3 381.7,223 381.5,219.8 M390.1,230.4 388.6,226.3 387.5,219.8 M358.9,224.1 363.8,222 365.3,225.2 369.6,227.4 371.4,234 M363,216.8 358,216.4 355.2,219.8 M351.3,214.2 355.2,213.8 357.8,214.7 355.2,215.1 351.3,215.1 M362.7,228.6 365.3,225.2 M416.6,214.4 418.1,216.6 416.6,222 413.3,226.3 411.2,229.1 406.9,232.7 406,233.6 M418.1,216.6 419.8,222 417.6,222 420.9,227.4 418.7,232.7 421.9,238.8 415.9,238.8 411.8,238.8 408.6,238.5 M411.8,238.8 411.8,241.3 408.6,241.3 M439.2,201.5 439.2,209.7 435.9,213.4 434.9,216.2 436.8,219.8 432.7,223 428.4,224.1 424.1,226.9 420.9,227.4 M436.8,219.8 439.2,224.8 442,227.4 446.5,232.7 441.3,232.7 435.9,234.7 431.6,233.8 427.5,236 425.8,243.5 421.9,247.8 422.4,252.1 418.7,254 415.5,253.4 413.8,256 M421.9,238.8 427.5,236 M411.4,251.9 413.3,248.5 418.5,247.8 418.5,244.6 417.4,240.7 415.9,238.8 M439.2,224.8 447.3,222.8 454.2,222.6 458.5,220.5 460.7,223 458.5,226.7 462.8,231.9 465,234 460.7,234.5 454.2,235.5 451,234 446.5,232.7 M460.7,223 462.8,219.8 465.4,215.5 466.1,212.7 467.2,206.9 470.4,204.8 M466.1,212.7 469.3,212.1 473.6,212.3 478.8,216.6 477.5,219.8 480.1,219.8 480.1,223.5 488.7,226.3 490.8,226.3 484.4,232.7 477.9,234.5 477.7,235.1 472.5,236 469.3,235.8 465,234 M480.1,219.8 480.7,218.7 M477.7,235.1 475.8,237 475.8,245.2 477.1,247.2 M460.7,234.5 462.8,239.8 460.7,243.1 460.5,245.7 468.7,250.2 471.9,253.6 M454.2,235.5 453.8,238.3 452.1,241.8 451.2,246.5 449.9,249.5 450.8,253 M451.2,246.5 453.2,245.7 460.5,245.7 M453.2,245.7 453.8,248.7 453.2,251 450.8,253 M449.9,249.5 453.8,248.7 M454.7,262 458.3,263.7 460.7,264 M462,268.5 467.2,268.5 470.4,268 474.5,266.1 M413.8,256 415.5,256.2 423.2,256.2 424.1,259.6 429.5,260.3 430.6,258.6 434.4,259.2 434.9,264 435.5,267.2 439.2,267.2 440,268.3 442,268.5 445.4,269.3 448.6,270.4 449.9,272.3 451.7,272.3 451.7,269.8 448.9,269.3 448.6,263.5 449.7,261.8 453.6,261.2 M439.2,267.2 439.2,271.5 434.9,271.5 434.9,278.4 437.9,281.4 M412.9,280.7 417.6,281 427.3,281 432.7,282.2 437.9,281.4 442,281.8 445.6,282.2 449.5,279 452.9,277.1 458.1,279.5 458.5,284.4 457.5,289.4 454.9,291.7 456.4,296.2 456.4,301.2 458.3,301.4 M432.7,282.2 432.7,290.9 430.6,290.9 430.6,296.9 430.6,304.6 425,305.3 423,305.1 M430.6,296.9 432.1,301.4 436.4,298.4 441.3,298.8 445.4,294.5 450.8,291.3 454.9,291.7 M450.8,291.3 447.1,287.6 442,281.8 M452.9,277.1 459,273.6 458.5,268.3 458.3,263.7 M459,273.6 461.8,274.7 464.8,279 463.3,280.1 461.3,277.9 M445.6,307.2 447.8,305.3 450.6,306.4 449.5,308.9 446.7,308.9 445.6,307.2 M454.2,299 456.4,299.5 456.2,302.1 454.2,301.6 454.2,299 M461.1,176.1 462.6,180 M368.6,153.3 373.5,153.7 372.4,157.4 371.6,161.7 371.6,163.4 M383.6,150.1 394.4,152.2 M392.9,133.5 396.5,135.9 400.4,136.9 405.2,138 403.9,141 400.4,143.8 402.6,144.7 402.6,148.3 403.6,149.2 M394.8,132.8 400.4,133.7 400.4,135.4 400.4,136.9 M402.6,128.8 402.6,131.6 400.4,133.7 M418.3,127.5 419.1,131.6 419.8,133.7 413.8,135.2 417.2,138.4 415.5,141.2 408.2,141.2 403.9,141 M406,125.3 408.6,125.5 M402.6,144.7 410.1,142.8 417,143.4 417,145.1 M408.2,141.2 410.1,142.8 M417.2,138.4 424.1,138.4 422.2,142.5 417,143.4 M419.8,133.7 428,136.9 436.2,137.8 439.2,134.1 438.3,131.6 439,127.5 437,126.6 430.1,126.2 M424.1,138.4 428,136.9 M422.2,142.5 424.5,140.2 428,140.6 435.1,139.3 436.8,140.2 433.1,143.8 428,144.7 423,143.4 M436.2,137.8 435.1,139.3 M436.8,140.2 444.8,139.5 448.2,145.5 451.4,146 M444.8,139.5 452.1,143.6 M436.4,148.3 445.6,148.6 449.1,149.4 M433.1,143.8 436.4,148.3 435.7,152.4 437,154.6 M416.8,145.5 420.4,145.5 423,143.4 M428,144.7 428.4,146.8 421.5,146.2 421.9,149.6 M428.4,146.8 429.5,149.9 427.3,152 M429.5,149.9 431.2,151.4 435.7,152.4 M429.3,153.3 431.2,151.4 M430.6,158 432.7,155.5 437,154.6 444.1,153.7 443.5,155.7 M444.1,153.7 447.8,153.1 M411.6,116.7 414,113.3 413.8,110 417.6,104.6 421.9,99.3 426.2,96 431.6,95 438.5,97.3 439.2,101.8 M431.6,95 443,93.9 447.8,92.8 449.9,94.5 453.8,93.5 M449.9,94.5 448.9,96.5 452.1,97.8 450.4,99.7 452.3,102.1 451.4,104 453.2,105.3 455.5,108.1 447.3,113.3 M447.8,115.4 446.5,119.5 439.8,118.9 M446.5,119.5 448.2,122.5 444.8,123.6 432.7,122.7 M444.8,123.6 443,126.6 438.1,127.5 436.6,126.4 M448.2,122.5 454.2,125.1 457.9,128.3 455.1,131.3 438.3,132.6 M455.1,131.3 460.7,130.9 463.9,135 469.3,136.1 473.6,136.7 473.2,140.4 469.7,142.1 M465,165.6 466.5,164.3 469.3,164.1 478.6,163.4 483.9,163.4 482.7,158.7 483.9,158 487.6,159.8 490.8,158 492.8,160.8 M476.8,154.2 481.1,155 481.6,157.2 483.9,158 M481.1,155 487.6,155 487.6,153.3 491.9,153.5 M473.6,150.1 481.1,151.6 487.6,153.3 M481.1,155 484.4,154.8 487.6,159.8 M478.6,163.4 476.2,168.8 471,171.6 471.9,174.2 467.2,175.7 469.3,177.8 468.2,178.9 465,180.6 462.8,180.2 M471,171.6 466.7,174 464.4,173.1 463.9,175.7 462.8,180 M464.8,169 466.3,169.9 464.4,171.8 M471.9,174.2 474.5,174.8 477.9,176.5 483.7,180.6 487.6,180.9 490.2,182.1 491.7,182.1 M483.9,163.4 485.2,166 486.5,167.7 485.7,170.3 487,172.5 490.2,174.6 490.2,176.8 491.9,178.9 M487.6,180.9 489.8,178.9 490.8,178.9 M479.6,208.2 480.7,205.8 483.3,206 488.7,206.9 490.8,204.3 499.4,202.6 505.9,200.4 507.2,196.1 506.3,194.6 500.5,194 498.6,191.4 M506.3,194.6 507.6,191.4 508.7,189.9 M499.4,202.6 501.8,207.8 M503.5,163.2 508.1,161.5 512.4,162.3 516.7,164.7 519.2,164.7 518.8,166.9 518,169.7 517.7,172.5 518.6,175.7 520.5,175.9 518.8,179.3 522.7,182.8 523.6,184.9 523.6,186.2 520.1,189.2 M518.8,179.3 530.2,179.1 530.7,176.8 536.7,174.8 537.1,172.5 538.8,171.8 540.6,170.1 541.6,167.7 541,166 548.7,163.4 545.3,162.8 541.6,164.5 541.4,161.9 538.6,162.6 536.7,163.6 533.5,163.4 530.7,163 528.9,162.8 526.4,165.4 523.1,167.3 519.2,166.9 M501.6,152.9 504.2,152.4 508.1,154.6 510.2,154.6 513.7,151.6 516.7,152.7 520.8,154.8 526.4,159.8 530.7,161.7 530.7,163 M508.1,154.6 508.1,146.6 513.7,145.3 518.8,147.9 521,149.9 527.4,149.4 529.8,150.9 529.6,153.1 533.9,155 536,154.4 539.5,153.1 540.3,152.4 545.7,150.9 548.3,150.5 551.1,151.1 560.2,152.7 553,155.2 546.4,157.8 546.2,160.4 548.7,163.4 M533.5,163.4 534.5,160.6 532.8,158.5 536,157 539.3,155.7 546.4,157.8 M536,154.4 540.3,156.7 544.7,155.7 540.3,152.4 M493,143.8 491.9,141.2 487.6,139.3 488.7,137.6 488.2,135.9 492.1,134.6 496.9,132.2 500.5,132.6 505.9,133.9 513.4,133.5 519.7,134.1 516.7,131.6 518.8,127.2 527.9,126.6 536,124.5 540.1,124.7 540.8,126.8 545.7,127.2 552.8,126.4 552.2,127.5 559.7,134.1 567.3,133.7 571.1,136.7 575.4,137.6 572.2,141.9 566.2,141.9 564.7,145.5 559.7,146.6 561.4,150.5 560.2,152.7 M575.4,137.6 580.6,135.2 586.6,134.1 592,135.9 598.5,135.6 599.1,131.8 607.5,133.1 609.2,135.2 616.8,135.2 624.3,137.6 632.9,135.4 638.7,136.3 644.1,135.6 647.8,130.3 648,128.8 653.6,128.3 658.8,130 662,135.4 667.4,138.2 669.5,140.8 677.5,139.5 676,141.9 674,146.4 670.2,147.1 669.9,150.3 668.7,152.2 666.7,152 663.1,154.2 660.7,153.5 655.3,157.4 M576.5,137.8 578,139.5 583.2,143.8 583.4,146.2 593.1,148.3 595,151.6 604.9,151.8 613.5,153.9 623.2,152.2 628.6,149.2 628.2,146.6 636.1,145.8 640.5,143.2 645.4,143 641.1,140.8 636.1,140.6 638.7,136.3 M659,162.1 663.9,160.4 M620,197.2 617.2,196.1 614.2,193.3 607.3,195.3 606.4,197.9 603,197.2 601.1,195.7 600.6,191.8 597.4,191.8 600,187.7 600,184.1 597,182.8 594.2,180.2 590.3,181.1 585.6,183.7 584.7,183.7 579.1,184.7 578.7,183.2 577.2,183.4 572.6,183.2 568.3,181.1 561.9,178.5 557.6,176.1 556.9,173.3 558.6,169.2 555.4,167.1 551.1,166 548.7,163.4 M579.1,184.7 579.5,185.8 585.6,185.6 585.6,183.7 M559.9,181.5 561.9,182.8 566.8,184.5 570.5,186 577.2,186.7 577.2,183.4 M559.9,181.5 561.9,178.5 M534.3,192.5 540.3,190.8 537.3,184.9 542.3,183 546.6,178.9 548.1,176.5 547.7,173.1 546.4,169.7 552.8,166.9 M577.2,186.7 579.1,187.1 580.8,189 586.4,189.7 583.8,191.6 586.2,194 586.8,197.6 M577.2,186.7 577.6,190.8 579.1,196.1 M597,182.8 592.4,186.2 590.3,191.8 588.4,194 586.8,197.6 M603,199.8 598.5,201.1 597.8,205.2 600.4,209.1 598.9,211.2 601.1,216.6 600.2,221.1 M603,197.2 603,199.8 603.9,201.5 605.4,205.8 607.3,204.3 611.4,204.1 613.1,208 614.8,212.3 609.2,212.7 607.9,214.4 609,218.3 M606.4,197.9 605.4,197.2 603,199.8 M618.9,211.9 618.9,216.6 615.7,219.8 612.5,221.1 M614.8,212.3 618.9,211.9 M607.3,195.3 609.2,198.7 612.5,199.4 611.4,201.5 614,203.5 616.8,206.9 618.9,211.9 M603,229.7 605.1,231.2 607.3,230.2 M623.4,239.2 625.4,241.6 628.6,240.5 632.5,240.5 635.1,237.9 636.1,234.2 640.7,234.5 M691,249.1 691,263.1 M654.7,263.7 656.8,263.3"/>
<clipPath id="cl"><use href="#land" clip-rule="evenodd"/><use href="#fillx"/></clipPath>
<filter id="bl" x="-5%" y="-5%" width="110%" height="110%"><feGaussianBlur stdDeviation="3"/></filter>
<clipPath id="box"><rect x="0" y="40" width="775" height="350"/></clipPath>
</defs>
<rect width="1862" height="1034" fill="#fff"/>
<g transform="translate(0,0)" clip-path="url(#box)">
<g clip-path="url(#cl)">
<rect x="-40" y="0" width="855" height="430" fill="#fd8e25"/>
<path fill="#fc6003" d="M0,45 300,45 300,140 275,145 250,157.5 232.5,170 221.2,177 215,175 210,170 200,177 190,177 181.2,188 172.5,188 160,177.5 150,177.5 138.8,173.5 125,160 0,160Z"/>
<path fill="#fc6003" d="M402.5,45 776.2,45 776.2,145 700,145 677.5,157.5 660,170 651.3,180 642.5,191.2 622.5,196.2 605,190 592.5,187.5 580,183.8 562.5,180 550,185 530,188.8 522.5,200 510,215 500,222.5 485,226.2 480,215 472.5,200 465,187.5 460,175 450,167.5 442.5,165 435,165 427.5,157.5 420,150 412.5,147.5 408.8,140 405,125 402.5,115Z"/>
<path fill="#fc6003" d="M363.8,190 370,180 385,176.2 392.5,170 410,172.5 427.5,180 442.5,175 460,180 470,190 475,205 485,215 482.5,225 470,215 460,215 450,225 445,240 427.5,240 420,230 417.5,217.5 405,215 385,215 372.5,212.5 363.8,202.5Z"/>
<path fill="#fd8e25" d="M417.5,185 435,183.8 440,200 427.5,207.5 417.5,200Z"/>
<path fill="#fc6003" d="M257,262 270,259 279,262 277,270 268,274 258,271Z"/>
<path fill="#fc6003" d="M427,287 440,287 440,300 427,300Z"/>
<path fill="#fc6003" d="M642,290 672,288 672,297 655,300 642,298Z"/>
<path fill="#e53702" d="M0,104.5 82.5,104 107.5,104 130,107.5 150,113.8 175,123.8 175,138.8 166.2,140 165.5,150 172.5,160 190,163 202.5,160 207.5,150 215,148 237.5,147.5 250,143.8 262.5,140 275,140 275,45 0,45Z"/>
<path fill="#e53702" d="M420,45 776.2,45 776.2,112.5 735,111.2 690,103.8 660,112.5 610,126.2 572.5,140 560,147.5 530,150 510,145 485,140 450,140 435,126.2 427.5,122.5 422.5,125 410,120 402.5,112.5 410,100 420,90Z"/>
<path fill="#fc6003" d="M397.5,112.5 408.8,98.8 415,91.3 412.5,102.5 406.2,113.8Z"/>
<path fill="#e53702" d="M562.5,170 575,168.8 592.5,176.2 592.5,181.2 575,180 563.8,176.2Z"/>
<path fill="#c50900" d="M0,97 100,96.5 130,101.2 160,103.8 185,112.5 200,112.5 200,45 0,45Z"/>
<path fill="#c50900" d="M200,45 265,45 265,120 245,120 225,111.2 200,111.2Z"/>
<path fill="#c50900" d="M435,45 776.2,45 776.2,111.2 735,110 685,97.5 660,90 585,90 560,100 556.2,122.5 522.5,127.5 485,123.8 450,115 440,105 435,92.5Z"/>
<path fill="#a10000" d="M117.5,45 252.5,45 252.5,91.3 225,94.5 200,94.5 175,91.3 150,91.3 117.5,88.8Z"/>
<path fill="#a10000" d="M572.5,65 660,65 660,81.2 610,84.5 585,83 572.5,80Z"/>
<path fill="#a10000" d="M500,65 535,65 535,87.5 500,90Z"/>
<path fill="#7f0000" d="M170,62.5 252.5,62.5 252.5,75 215,78 170,75.5Z"/>
<path fill="#fdba7c" d="M236,312 243,302 247,292 258,292 262,300 270,298 282,300 285,312 275,322 262,330 262,370 225,370 225,330Z"/>
<path fill="#fdba7c" d="M330,95 365,95 365,112 330,112Z"/>
<path fill="#fdba7c" d="M740,312 775,312 775,350 740,350Z"/>
<path fill="#fdba7c" d="M695,329 710,329 710,340 695,340Z"/>
<path fill="#fd8e25" d="M233,290 239,290 239,330 234,330Z"/>
</g>
<path fill="#fdba7c" fill-opacity="0.65" d="M5,181.7h3v3h-3zM22.2,205.4h3v3h-3zM41.6,194.6h3v3h-3zM45.9,195.9h3v3h-3zM48,196.8h3v3h-3zM42.6,194.6h3v3h-3zM7.1,271.1h3v3h-3zM15.7,271.7h3v3h-3zM19,272.8h3v3h-3zM9.3,287.2h3v3h-3zM11.4,282.3h3v3h-3zM41.6,287.2h3v3h-3zM46.9,285.1h3v3h-3zM64.2,279.9h3v3h-3zM59.9,278h3v3h-3zM84.6,261.4h3v3h-3zM86.8,263.5h3v3h-3zM73.8,275.4h3v3h-3zM82.5,280.8h3v3h-3zM93.2,289.4h3v3h-3zM95.4,291.5h3v3h-3zM106.1,295.8h3v3h-3zM150.5,300.3h3v3h-3zM191.2,243.1h3v3h-3zM189,243.7h3v3h-3zM16.4,261.8h3v3h-3zM37.2,264.6h3v3h-3zM2.8,280.8h3v3h-3zM771.3,277.5h3v3h-3zM769.2,279.7h3v3h-3zM13.6,276h3v3h-3zM42,282.7h3v3h-3zM53,299.3h3v3h-3zM754.1,226.9h3v3h-3zM747.7,229.7h3v3h-3zM745.5,222.6h3v3h-3zM758.4,239h3v3h-3zM758,235.5h3v3h-3zM750.9,266.8h3v3h-3zM745.5,275.4h3v3h-3zM748.3,280.1h3v3h-3zM750.9,282.9h3v3h-3zM744.4,265.7h3v3h-3zM730.4,262.7h3v3h-3zM733.7,264h3v3h-3zM726.1,226.9h3v3h-3zM713.2,226.1h3v3h-3zM698.2,211.9h3v3h-3zM699.7,209.3h3v3h-3zM675.5,226.1h3v3h-3zM246.7,172.5h3v3h-3zM325.7,158.9h3v3h-3zM331.1,160.6h3v3h-3zM319.3,157h3v3h-3zM349.6,171.6h3v3h-3zM351.6,181.1h3v3h-3zM348.3,180.6h3v3h-3zM355.9,180.6h3v3h-3zM334.3,207.6h3v3h-3zM336.5,209.7h3v3h-3zM332.2,205.4h3v3h-3zM254.7,210.6h3v3h-3zM254,208.8h3v3h-3zM253.2,207.1h3v3h-3zM254.7,212.3h3v3h-3zM257.7,213.6h3v3h-3zM253.2,216h3v3h-3zM250.8,204.8h3v3h-3zM250.4,203h3v3h-3zM246.5,202.6h3v3h-3zM235.5,215.3h3v3h-3zM237.7,216h3v3h-3zM355,259h3v3h-3zM373.7,276.4h3v3h-3zM364.5,328.8h3v3h-3zM359.5,321.9h3v3h-3zM329,367.7h3v3h-3zM505.5,251.9h3v3h-3zM505.5,287.2h3v3h-3zM510,285.5h3v3h-3zM522.5,284.4h3v3h-3zM479.2,267.2h3v3h-3zM481.6,268.3h3v3h-3zM483.1,269.6h3v3h-3zM543.6,234.5h3v3h-3zM544.2,243.3h3v3h-3zM541.9,257.7h3v3h-3zM552.8,323.4h3v3h-3zM535.6,348.1h3v3h-3zM467.4,342.8h3v3h-3zM497.3,341.9h3v3h-3zM594.4,268.3h3v3h-3zM613.5,264.6h3v3h-3zM585.8,215.1h3v3h-3zM586.2,220.5h3v3h-3zM587.9,226.5h3v3h-3zM658.3,170.1h3v3h-3zM661.6,185h3v3h-3zM661.1,185.6h3v3h-3zM653.4,189.5h3v3h-3zM664.8,181.1h3v3h-3zM692.1,183.9h3v3h-3zM689.3,144.7h3v3h-3zM702.5,143h3v3h-3zM708.9,141.2h3v3h-3zM714.3,139.7h3v3h-3zM717.5,136.5h3v3h-3zM720.8,134.4h3v3h-3zM40.5,123.6h3v3h-3zM27.6,126.2h3v3h-3zM22.2,128.3h3v3h-3zM14.6,129.4h3v3h-3zM10.3,129.8h3v3h-3zM5,130.5h3v3h-3zM758.4,128.1h3v3h-3zM743.4,123.6h3v3h-3zM56.6,118.2h3v3h-3zM370.9,108.5h3v3h-3zM383.2,112.2h3v3h-3zM379.5,115h3v3h-3zM372,118.2h3v3h-3zM367.7,89.2h3v3h-3zM426.9,81.8h3v3h-3zM256.8,353.3h3v3h-3zM259,353.5h3v3h-3zM747.7,304.4h3v3h-3zM728.3,309.8h3v3h-3zM6,336.7h3v3h-3zM743.4,351.1h3v3h-3zM749.8,355h3v3h-3zM728.1,359.5h3v3h-3z"/>
<use href="#borders" fill="none" stroke="#8c8c8c" stroke-width="1.7" stroke-linejoin="round"/>
<use href="#rivers" fill="none" stroke="#000" stroke-width="2" stroke-linecap="round" stroke-linejoin="round"/>
<use href="#lakes" fill="none" stroke="#000" stroke-width="2.1" stroke-linejoin="round"/>
<path fill="#a10000" d="M306,61h21v3h-21zM340,64h8v2.5h-8zM361,67h5v2.5h-5zM507,68h6v2.4h-6zM516,70h3v2.4h-3zM527,68h3v2.4h-3z"/>
<use href="#nodata" fill="#fff" stroke="#000" stroke-width="3.2" stroke-linejoin="round"/>
<use href="#land" fill="none" stroke="#000" stroke-width="2.3" stroke-linejoin="round"/>
</g>
<text x="388.2" y="25.3" font-size="33.5" text-anchor="middle">(a) Mid Century (RCP2.6)</text>
<g transform="translate(930,0)" clip-path="url(#box)">
<g clip-path="url(#cl)">
<rect x="-40" y="0" width="855" height="430" fill="#fd8e25"/>
<path fill="#fc6003" d="M0,45 300,45 300,145 250,157.5 232.5,170 221.2,177 210,172.5 200,177 192.5,180.5 185,180.5 178.8,170 175,155 170,150 162.5,150 156.2,157.5 155,176.2 150,177.5 138.8,173.5 125,160 0,160Z"/>
<path fill="#fc6003" d="M392.5,140 395,125 402.5,115 402.5,45 776.2,45 776.2,145 700,145 677.5,157.5 660,170 652.5,182.5 645,193 622.5,200 605,192.5 592.5,190 580,185 562.5,187.5 550,195 535,195 527.5,190 522.5,200 510,215 500,222.5 485,226.2 480,215 472.5,200 465,187.5 460,175 450,167.5 442.5,165 435,165 427.5,157.5 420,152.5 410,155 397.5,150Z"/>
<path fill="#fc6003" d="M360,190 370,177.5 385,170 410,170 427.5,180 442.5,175 460,180 470,190 475,205 482.5,215 470,220 460,230 457.5,240 450,257.5 430,257.5 420,250 420,235 410,230 405,217.5 385,220 367.5,215 360,205Z"/>
<path fill="#fc6003" d="M227,250 240,247 262,250 290,255 295,265 285,280 272,291 258,291 250,280 240,276 230,262Z"/>
<path fill="#fc6003" d="M428,300 442,300 442,308 428,308Z"/>
<path fill="#fc6003" d="M643,290 662,290 662,302 643,302Z"/>
<path fill="#fc6003" d="M686,287 705,287 705,308 690,308Z"/>
<path fill="#e53702" d="M0,105.5 30,113 50,110.5 85,108 120,122.5 150,135 175,140 190,145 200,150 215,150 250,145 275,140 275,45 0,45Z"/>
<path fill="#e53702" d="M420,45 776.2,45 776.2,112.5 735,112.5 685,112.5 660,117.5 610,125 572.5,140 560,147.5 530,150 510,147.5 485,145 450,145 435,135 427.5,125 422.5,125 410,120 402.5,112.5 410,100 420,90Z"/>
<path fill="#fc6003" d="M397.5,112.5 408.8,98.8 415,91.3 412.5,102.5 406.2,113.8Z"/>
<path fill="#e53702" d="M560,168.8 575,166.2 588.8,172.5 587.5,180 572.5,180 561.2,176.2Z"/>
<path fill="#c50900" d="M0,101.5 37.5,103 82.5,103 100,103 137.5,112.5 175,122.5 185,123.8 185,45 0,45Z"/>
<path fill="#c50900" d="M185,45 275,45 275,125 250,123.8 237.5,122.5 220,122.5 215,115 200,115 185,112.5Z"/>
<path fill="#c50900" d="M435,45 776.2,45 776.2,102.5 735,102.5 685,93.8 660,91.3 585,92.5 585,112.5 535,115 535,127.5 485,125 450,115 440,105 435,92.5Z"/>
<path fill="#a10000" d="M100,45 265,45 265,115 250,117.5 225,100 200,98.8 175,100 150,98.8 100,96.5Z"/>
<path fill="#a10000" d="M0,45 100,45 100,95.5 37.5,94.5 0,95.5Z"/>
<path fill="#a10000" d="M572.5,65 660,65 660,85 622.5,86.5 585,85.5 572.5,82.5Z"/>
<path fill="#a10000" d="M500,65 535,65 535,87.5 500,90Z"/>
<path fill="#7f0000" d="M150,62.5 252.5,62.5 252.5,83 200,85.5 150,83Z"/>
<path fill="#fdba7c" d="M238,318 245,306 258,304 264,310 272,308 280,312 275,322 262,330 262,370 225,370 225,330Z"/>
<path fill="#fee7d4" d="M246,318 252,318 252,324 246,324Z"/>
<path fill="#fdba7c" d="M330,95 365,95 365,112 330,112Z"/>
<path fill="#fdba7c" d="M740,312 775,312 775,350 740,350Z"/>
<path fill="#fdba7c" d="M695,329 710,329 710,340 695,340Z"/>
</g>
<path fill="#fdba7c" fill-opacity="0.65" d="M5,181.7h3v3h-3zM22.2,205.4h3v3h-3zM41.6,194.6h3v3h-3zM45.9,195.9h3v3h-3zM48,196.8h3v3h-3zM42.6,194.6h3v3h-3zM7.1,271.1h3v3h-3zM15.7,271.7h3v3h-3zM19,272.8h3v3h-3zM9.3,287.2h3v3h-3zM11.4,282.3h3v3h-3zM41.6,287.2h3v3h-3zM46.9,285.1h3v3h-3zM64.2,279.9h3v3h-3zM59.9,278h3v3h-3zM84.6,261.4h3v3h-3zM86.8,263.5h3v3h-3zM73.8,275.4h3v3h-3zM82.5,280.8h3v3h-3zM93.2,289.4h3v3h-3zM95.4,291.5h3v3h-3zM106.1,295.8h3v3h-3zM150.5,300.3h3v3h-3zM191.2,243.1h3v3h-3zM189,243.7h3v3h-3zM16.4,261.8h3v3h-3zM37.2,264.6h3v3h-3zM2.8,280.8h3v3h-3zM771.3,277.5h3v3h-3zM769.2,279.7h3v3h-3zM13.6,276h3v3h-3zM42,282.7h3v3h-3zM53,299.3h3v3h-3zM754.1,226.9h3v3h-3zM747.7,229.7h3v3h-3zM745.5,222.6h3v3h-3zM758.4,239h3v3h-3zM758,235.5h3v3h-3zM750.9,266.8h3v3h-3zM745.5,275.4h3v3h-3zM748.3,280.1h3v3h-3zM750.9,282.9h3v3h-3zM744.4,265.7h3v3h-3zM730.4,262.7h3v3h-3zM733.7,264h3v3h-3zM726.1,226.9h3v3h-3zM713.2,226.1h3v3h-3zM698.2,211.9h3v3h-3zM699.7,209.3h3v3h-3zM675.5,226.1h3v3h-3zM246.7,172.5h3v3h-3zM325.7,158.9h3v3h-3zM331.1,160.6h3v3h-3zM319.3,157h3v3h-3zM349.6,171.6h3v3h-3zM351.6,181.1h3v3h-3zM348.3,180.6h3v3h-3zM355.9,180.6h3v3h-3zM334.3,207.6h3v3h-3zM336.5,209.7h3v3h-3zM332.2,205.4h3v3h-3zM254.7,210.6h3v3h-3zM254,208.8h3v3h-3zM253.2,207.1h3v3h-3zM254.7,212.3h3v3h-3zM257.7,213.6h3v3h-3zM253.2,216h3v3h-3zM250.8,204.8h3v3h-3zM250.4,203h3v3h-3zM246.5,202.6h3v3h-3zM235.5,215.3h3v3h-3zM237.7,216h3v3h-3zM355,259h3v3h-3zM373.7,276.4h3v3h-3zM364.5,328.8h3v3h-3zM359.5,321.9h3v3h-3zM329,367.7h3v3h-3zM505.5,251.9h3v3h-3zM505.5,287.2h3v3h-3zM510,285.5h3v3h-3zM522.5,284.4h3v3h-3zM479.2,267.2h3v3h-3zM481.6,268.3h3v3h-3zM483.1,269.6h3v3h-3zM543.6,234.5h3v3h-3zM544.2,243.3h3v3h-3zM541.9,257.7h3v3h-3zM552.8,323.4h3v3h-3zM535.6,348.1h3v3h-3zM467.4,342.8h3v3h-3zM497.3,341.9h3v3h-3zM594.4,268.3h3v3h-3zM613.5,264.6h3v3h-3zM585.8,215.1h3v3h-3zM586.2,220.5h3v3h-3zM587.9,226.5h3v3h-3zM658.3,170.1h3v3h-3zM661.6,185h3v3h-3zM661.1,185.6h3v3h-3zM653.4,189.5h3v3h-3zM664.8,181.1h3v3h-3zM692.1,183.9h3v3h-3zM689.3,144.7h3v3h-3zM702.5,143h3v3h-3zM708.9,141.2h3v3h-3zM714.3,139.7h3v3h-3zM717.5,136.5h3v3h-3zM720.8,134.4h3v3h-3zM40.5,123.6h3v3h-3zM27.6,126.2h3v3h-3zM22.2,128.3h3v3h-3zM14.6,129.4h3v3h-3zM10.3,129.8h3v3h-3zM5,130.5h3v3h-3zM758.4,128.1h3v3h-3zM743.4,123.6h3v3h-3zM56.6,118.2h3v3h-3zM370.9,108.5h3v3h-3zM383.2,112.2h3v3h-3zM379.5,115h3v3h-3zM372,118.2h3v3h-3zM367.7,89.2h3v3h-3zM426.9,81.8h3v3h-3zM256.8,353.3h3v3h-3zM259,353.5h3v3h-3zM747.7,304.4h3v3h-3zM728.3,309.8h3v3h-3zM6,336.7h3v3h-3zM743.4,351.1h3v3h-3zM749.8,355h3v3h-3zM728.1,359.5h3v3h-3z"/>
<use href="#borders" fill="none" stroke="#8c8c8c" stroke-width="1.7" stroke-linejoin="round"/>
<use href="#rivers" fill="none" stroke="#000" stroke-width="2" stroke-linecap="round" stroke-linejoin="round"/>
<use href="#lakes" fill="none" stroke="#000" stroke-width="2.1" stroke-linejoin="round"/>
<path fill="#a10000" d="M306,61h21v3h-21zM340,64h8v2.5h-8zM361,67h5v2.5h-5zM507,68h6v2.4h-6zM516,70h3v2.4h-3zM527,68h3v2.4h-3z"/>
<use href="#nodata" fill="#fff" stroke="#000" stroke-width="3.2" stroke-linejoin="round"/>
<use href="#land" fill="none" stroke="#000" stroke-width="2.3" stroke-linejoin="round"/>
</g>
<text x="1318.2" y="25.3" font-size="33.5" text-anchor="middle">(b) Late Century (RCP2.6)</text>
<g transform="translate(0,383.4)" clip-path="url(#box)">
<g clip-path="url(#cl)">
<rect x="-40" y="0" width="855" height="430" fill="#fd8e25"/>
<path fill="#fc6003" d="M0,45 300,45 300,145 250,155 235,160 225,165 200,165 190,170 185,177 175,184.5 165,180.5 160,177.5 150,177.5 138.8,173.5 125,160 0,160Z"/>
<path fill="#fc6003" d="M395,125 402.5,115 402.5,45 776.2,45 776.2,145 700,145 672.5,150 642.5,157.5 630,175 610,190 592.5,187.5 580,185 562.5,182.5 550,187.5 535,192.5 527.5,190 522.5,200 510,215 500,222.5 485,226.2 480,215 472.5,200 465,187.5 460,175 450,167.5 442.5,165 435,165 427.5,157.5 420,152.5 410,150 400,145Z"/>
<path fill="#fc6003" d="M360,190 370,177.5 385,170 410,170 427.5,180 442.5,175 460,180 470,190 475,205 482.5,215 470,218.8 450,216.2 430,218 410,220 385,220.5 367.5,215.5 360,205Z"/>
<path fill="#fc6003" d="M460,212.5 477.5,210 485,220 482.5,232.5 470,237.5 460,230Z"/>
<path fill="#fc6003" d="M418,255 440,254 458,262 462,290 455,312 440,322 422,318 416,300 414,275Z"/>
<path fill="#fc6003" d="M220,250 232,246 262,250 290,255 300,264 296,278 280,292 262,296 250,290 240,292 232,280 222,264Z"/>
<path fill="#fc6003" d="M646,282 686,280 690,300 664,306 646,298Z"/>
<path fill="#fc6003" d="M690,288 714,288 714,312 694,312Z"/>
<path fill="#e53702" d="M0,105.5 30,113 50,109.2 85,103 125,112.5 160,122.5 175,135 190,140 215,138.8 250,135 265,132.5 275,132.5 275,45 0,45Z"/>
<path fill="#e53702" d="M420,45 776.2,45 776.2,102.5 685,102.5 635,107.5 572.5,112.5 572.5,140 560,147.5 530,150 510,147.5 485,145 450,140 435,126.2 427.5,122.5 422.5,125 410,120 402.5,112.5 410,100 420,90Z"/>
<path fill="#fc6003" d="M397.5,112.5 408.8,98.8 415,91.3 412.5,102.5 406.2,113.8Z"/>
<path fill="#e53702" d="M562.5,166.2 575,165 587.5,172.5 587.5,180 572.5,180 562.5,175Z"/>
<path fill="#c50900" d="M0,96 85,96 100,96.8 150,106.2 185,115 200,115 200,45 0,45Z"/>
<path fill="#c50900" d="M200,45 275,45 275,117.5 250,117.5 237.5,115 220,115 215,110 200,110Z"/>
<path fill="#c50900" d="M450,105 470,103.8 500,110 535,115 535,126.2 500,127.5 470,122.5 453.8,115Z"/>
<path fill="#c50900" d="M535,65 776.2,65 776.2,93.8 710,90 660,87.5 585,86.2 535,90Z"/>
<path fill="#c50900" d="M450,45 535,45 535,93.8 485,97.5 450,93.8Z"/>
<path fill="#a10000" d="M117.5,45 265,45 265,112.5 250,112.5 225,93.8 200,93.8 150,91.3 117.5,88.8Z"/>
<path fill="#a10000" d="M572.5,65 660,65 660,81.2 610,83 585,82 572.5,80Z"/>
<path fill="#a10000" d="M500,65 535,65 535,87.5 500,90Z"/>
<path fill="#7f0000" d="M170,62.5 252.5,62.5 252.5,75 215,78 170,75.5Z"/>
<path fill="#fdba7c" d="M243,322 247,308 258,306 262,316 262,370 225,370 225,335Z"/>
<path fill="#fdba7c" d="M330,95 365,95 365,112 330,112Z"/>
<path fill="#fdba7c" d="M740,318 775,318 775,350 740,350Z"/>
</g>
<path fill="#fdba7c" fill-opacity="0.65" d="M5,181.7h3v3h-3zM22.2,205.4h3v3h-3zM41.6,194.6h3v3h-3zM45.9,195.9h3v3h-3zM48,196.8h3v3h-3zM42.6,194.6h3v3h-3zM7.1,271.1h3v3h-3zM15.7,271.7h3v3h-3zM19,272.8h3v3h-3zM9.3,287.2h3v3h-3zM11.4,282.3h3v3h-3zM41.6,287.2h3v3h-3zM46.9,285.1h3v3h-3zM64.2,279.9h3v3h-3zM59.9,278h3v3h-3zM84.6,261.4h3v3h-3zM86.8,263.5h3v3h-3zM73.8,275.4h3v3h-3zM82.5,280.8h3v3h-3zM93.2,289.4h3v3h-3zM95.4,291.5h3v3h-3zM106.1,295.8h3v3h-3zM150.5,300.3h3v3h-3zM191.2,243.1h3v3h-3zM189,243.7h3v3h-3zM16.4,261.8h3v3h-3zM37.2,264.6h3v3h-3zM2.8,280.8h3v3h-3zM771.3,277.5h3v3h-3zM769.2,279.7h3v3h-3zM13.6,276h3v3h-3zM42,282.7h3v3h-3zM53,299.3h3v3h-3zM754.1,226.9h3v3h-3zM747.7,229.7h3v3h-3zM745.5,222.6h3v3h-3zM758.4,239h3v3h-3zM758,235.5h3v3h-3zM750.9,266.8h3v3h-3zM745.5,275.4h3v3h-3zM748.3,280.1h3v3h-3zM750.9,282.9h3v3h-3zM744.4,265.7h3v3h-3zM730.4,262.7h3v3h-3zM733.7,264h3v3h-3zM726.1,226.9h3v3h-3zM713.2,226.1h3v3h-3zM698.2,211.9h3v3h-3zM699.7,209.3h3v3h-3zM675.5,226.1h3v3h-3zM246.7,172.5h3v3h-3zM325.7,158.9h3v3h-3zM331.1,160.6h3v3h-3zM319.3,157h3v3h-3zM349.6,171.6h3v3h-3zM351.6,181.1h3v3h-3zM348.3,180.6h3v3h-3zM355.9,180.6h3v3h-3zM334.3,207.6h3v3h-3zM336.5,209.7h3v3h-3zM332.2,205.4h3v3h-3zM254.7,210.6h3v3h-3zM254,208.8h3v3h-3zM253.2,207.1h3v3h-3zM254.7,212.3h3v3h-3zM257.7,213.6h3v3h-3zM253.2,216h3v3h-3zM250.8,204.8h3v3h-3zM250.4,203h3v3h-3zM246.5,202.6h3v3h-3zM235.5,215.3h3v3h-3zM237.7,216h3v3h-3zM355,259h3v3h-3zM373.7,276.4h3v3h-3zM364.5,328.8h3v3h-3zM359.5,321.9h3v3h-3zM329,367.7h3v3h-3zM505.5,251.9h3v3h-3zM505.5,287.2h3v3h-3zM510,285.5h3v3h-3zM522.5,284.4h3v3h-3zM479.2,267.2h3v3h-3zM481.6,268.3h3v3h-3zM483.1,269.6h3v3h-3zM543.6,234.5h3v3h-3zM544.2,243.3h3v3h-3zM541.9,257.7h3v3h-3zM552.8,323.4h3v3h-3zM535.6,348.1h3v3h-3zM467.4,342.8h3v3h-3zM497.3,341.9h3v3h-3zM594.4,268.3h3v3h-3zM613.5,264.6h3v3h-3zM585.8,215.1h3v3h-3zM586.2,220.5h3v3h-3zM587.9,226.5h3v3h-3zM658.3,170.1h3v3h-3zM661.6,185h3v3h-3zM661.1,185.6h3v3h-3zM653.4,189.5h3v3h-3zM664.8,181.1h3v3h-3zM692.1,183.9h3v3h-3zM689.3,144.7h3v3h-3zM702.5,143h3v3h-3zM708.9,141.2h3v3h-3zM714.3,139.7h3v3h-3zM717.5,136.5h3v3h-3zM720.8,134.4h3v3h-3zM40.5,123.6h3v3h-3zM27.6,126.2h3v3h-3zM22.2,128.3h3v3h-3zM14.6,129.4h3v3h-3zM10.3,129.8h3v3h-3zM5,130.5h3v3h-3zM758.4,128.1h3v3h-3zM743.4,123.6h3v3h-3zM56.6,118.2h3v3h-3zM370.9,108.5h3v3h-3zM383.2,112.2h3v3h-3zM379.5,115h3v3h-3zM372,118.2h3v3h-3zM367.7,89.2h3v3h-3zM426.9,81.8h3v3h-3zM256.8,353.3h3v3h-3zM259,353.5h3v3h-3zM747.7,304.4h3v3h-3zM728.3,309.8h3v3h-3zM6,336.7h3v3h-3zM743.4,351.1h3v3h-3zM749.8,355h3v3h-3zM728.1,359.5h3v3h-3z"/>
<use href="#borders" fill="none" stroke="#8c8c8c" stroke-width="1.7" stroke-linejoin="round"/>
<use href="#rivers" fill="none" stroke="#000" stroke-width="2" stroke-linecap="round" stroke-linejoin="round"/>
<use href="#lakes" fill="none" stroke="#000" stroke-width="2.1" stroke-linejoin="round"/>
<path fill="#a10000" d="M306,61h21v3h-21zM340,64h8v2.5h-8zM361,67h5v2.5h-5zM507,68h6v2.4h-6zM516,70h3v2.4h-3zM527,68h3v2.4h-3z"/>
<use href="#nodata" fill="#fff" stroke="#000" stroke-width="3.2" stroke-linejoin="round"/>
<use href="#land" fill="none" stroke="#000" stroke-width="2.3" stroke-linejoin="round"/>
</g>
<text x="388.2" y="408.7" font-size="33.5" text-anchor="middle">(c) Mid Century (RCP6.0)</text>
<g transform="translate(930,383.4)" clip-path="url(#box)">
<g clip-path="url(#cl)">
<g filter="url(#bl)">
<rect x="-40" y="0" width="855" height="430" fill="#c50900"/>
<path fill="#a80200" d="M0,45 300,45 300,170 250,180 225,185 190,187.5 160,190 140,180 120,160 0,160Z"/>
<path fill="#a80200" d="M347.5,175 385,165 415,45 776.2,45 776.2,170 672.5,175 655,190 622.5,195 592.5,190 560,187.5 535,200 510,220 485,230 475,225 460,215 450,217.5 420,215 385,215 355,212.5Z"/>
<path fill="#a80200" d="M240,260 262,254 286,260 286,280 268,292 250,286 240,274Z"/>
<path fill="#a80200" d="M420,268 448,264 455,295 440,312 424,305Z"/>
<path fill="#a80200" d="M640,284 690,280 700,300 670,310 640,304Z"/>
<path fill="#890000" d="M0,45 300,45 300,145 262.5,150 237.5,157.5 215,160 190,157.5 175,150 150,150 120,145 0,145Z"/>
<path fill="#890000" d="M132,150 168,146 176,160 160,172 138,168Z"/>
<path fill="#890000" d="M405,45 776.2,45 776.2,135 710,140 660,145 622.5,150 592.5,157.5 592.5,180 562.5,182.5 550,170 530,170 510,160 485,157.5 460,150 435,140 420,125 405,115Z"/>
<path fill="#890000" d="M470,180 495,175 510,190 500,205 480,200Z"/>
<path fill="#890000" d="M372.5,180 415,180 420,195 385,200Z"/>
<path fill="#6b0000" d="M0,45 300,45 300,122.5 275,130 250,137.5 225,140 200,138.8 175,135 150,125 120,115 85,112.5 0,115Z"/>
<path fill="#6b0000" d="M435,45 776.2,45 776.2,115 735,115 685,120 635,125 585,130 560,140 535,145 500,140 470,130 450,120 435,105Z"/>
<path fill="#5d0000" d="M0,45 300,45 300,102.5 250,105 200,102.5 150,98.8 100,96.2 0,96.2Z"/>
<path fill="#5d0000" d="M485,45 776.2,45 776.2,97.5 685,95 585,97.5 535,105 485,100Z"/>
<path fill="#c50900" d="M367.5,135 392.5,122.5 410,122.5 415,145 405,165 367.5,165Z"/>
<path fill="#e53702" d="M168,196 188,196 200,212 214,226 206,232 190,222 170,206Z"/>
<path fill="#e53702" d="M204,226 226,230 224,252 216,268 228,288 238,300 230,306 212,286 203,262 201,244Z"/>
<path fill="#e53702" d="M296,258 316,256 316,272 302,290 290,300 286,296 300,276Z"/>
<path fill="#e53702" d="M240,296 262,296 285,300 282,318 262,324 236,316Z"/>
<path fill="#e53702" d="M376,118 392,118 392,140 364,140 364,128Z"/>
<path fill="#e53702" d="M330,95 365,95 365,112 330,112Z"/>
<path fill="#e53702" d="M545,205 570,200 566,232 550,232Z"/>
<path fill="#e53702" d="M585,195 640,196 650,260 600,268 580,240Z"/>
<path fill="#e53702" d="M585,225 720,230 720,268 590,268Z"/>
<path fill="#e53702" d="M410,255 420,255 424,300 420,322 446,322 452,316 438,326 418,326 410,300Z"/>
<path fill="#e53702" d="M480,270 500,270 500,300 480,300Z"/>
<path fill="#e53702" d="M630,300 650,316 690,318 712,300 716,330 690,340 630,330Z"/>
<path fill="#fc6003" d="M238,318 262,312 270,322 262,334 262,370 225,370 225,335Z"/>
<path fill="#fd8e25" d="M240,326 256,322 258,345 244,360 236,350Z"/>
<path fill="#fc6003" d="M740,312 775,312 775,350 740,350Z"/>
<path fill="#fc6003" d="M695,329 710,329 710,340 695,340Z"/>
</g>
</g>
<path fill="#fc6003" fill-opacity="0.9" d="M5,181.7h3v3h-3zM22.2,205.4h3v3h-3zM41.6,194.6h3v3h-3zM45.9,195.9h3v3h-3zM48,196.8h3v3h-3zM42.6,194.6h3v3h-3zM7.1,271.1h3v3h-3zM15.7,271.7h3v3h-3zM19,272.8h3v3h-3zM9.3,287.2h3v3h-3zM11.4,282.3h3v3h-3zM41.6,287.2h3v3h-3zM46.9,285.1h3v3h-3zM64.2,279.9h3v3h-3zM59.9,278h3v3h-3zM84.6,261.4h3v3h-3zM86.8,263.5h3v3h-3zM73.8,275.4h3v3h-3zM82.5,280.8h3v3h-3zM93.2,289.4h3v3h-3zM95.4,291.5h3v3h-3zM106.1,295.8h3v3h-3zM150.5,300.3h3v3h-3zM191.2,243.1h3v3h-3zM189,243.7h3v3h-3zM16.4,261.8h3v3h-3zM37.2,264.6h3v3h-3zM2.8,280.8h3v3h-3zM771.3,277.5h3v3h-3zM769.2,279.7h3v3h-3zM13.6,276h3v3h-3zM42,282.7h3v3h-3zM53,299.3h3v3h-3zM754.1,226.9h3v3h-3zM747.7,229.7h3v3h-3zM745.5,222.6h3v3h-3zM758.4,239h3v3h-3zM758,235.5h3v3h-3zM750.9,266.8h3v3h-3zM745.5,275.4h3v3h-3zM748.3,280.1h3v3h-3zM750.9,282.9h3v3h-3zM744.4,265.7h3v3h-3zM730.4,262.7h3v3h-3zM733.7,264h3v3h-3zM726.1,226.9h3v3h-3zM713.2,226.1h3v3h-3zM698.2,211.9h3v3h-3zM699.7,209.3h3v3h-3zM675.5,226.1h3v3h-3zM246.7,172.5h3v3h-3zM325.7,158.9h3v3h-3zM331.1,160.6h3v3h-3zM319.3,157h3v3h-3zM349.6,171.6h3v3h-3zM351.6,181.1h3v3h-3zM348.3,180.6h3v3h-3zM355.9,180.6h3v3h-3zM334.3,207.6h3v3h-3zM336.5,209.7h3v3h-3zM332.2,205.4h3v3h-3zM254.7,210.6h3v3h-3zM254,208.8h3v3h-3zM253.2,207.1h3v3h-3zM254.7,212.3h3v3h-3zM257.7,213.6h3v3h-3zM253.2,216h3v3h-3zM250.8,204.8h3v3h-3zM250.4,203h3v3h-3zM246.5,202.6h3v3h-3zM235.5,215.3h3v3h-3zM237.7,216h3v3h-3zM355,259h3v3h-3zM373.7,276.4h3v3h-3zM364.5,328.8h3v3h-3zM359.5,321.9h3v3h-3zM329,367.7h3v3h-3zM505.5,251.9h3v3h-3zM505.5,287.2h3v3h-3zM510,285.5h3v3h-3zM522.5,284.4h3v3h-3zM479.2,267.2h3v3h-3zM481.6,268.3h3v3h-3zM483.1,269.6h3v3h-3zM543.6,234.5h3v3h-3zM544.2,243.3h3v3h-3zM541.9,257.7h3v3h-3zM552.8,323.4h3v3h-3zM535.6,348.1h3v3h-3zM467.4,342.8h3v3h-3zM497.3,341.9h3v3h-3zM594.4,268.3h3v3h-3zM613.5,264.6h3v3h-3zM585.8,215.1h3v3h-3zM586.2,220.5h3v3h-3zM587.9,226.5h3v3h-3zM658.3,170.1h3v3h-3zM661.6,185h3v3h-3zM661.1,185.6h3v3h-3zM653.4,189.5h3v3h-3zM664.8,181.1h3v3h-3zM692.1,183.9h3v3h-3zM689.3,144.7h3v3h-3zM702.5,143h3v3h-3zM708.9,141.2h3v3h-3zM714.3,139.7h3v3h-3zM717.5,136.5h3v3h-3zM720.8,134.4h3v3h-3zM40.5,123.6h3v3h-3zM27.6,126.2h3v3h-3zM22.2,128.3h3v3h-3zM14.6,129.4h3v3h-3zM10.3,129.8h3v3h-3zM5,130.5h3v3h-3zM758.4,128.1h3v3h-3zM743.4,123.6h3v3h-3zM56.6,118.2h3v3h-3zM370.9,108.5h3v3h-3zM383.2,112.2h3v3h-3zM379.5,115h3v3h-3zM372,118.2h3v3h-3zM367.7,89.2h3v3h-3zM426.9,81.8h3v3h-3zM256.8,353.3h3v3h-3zM259,353.5h3v3h-3zM747.7,304.4h3v3h-3zM728.3,309.8h3v3h-3zM6,336.7h3v3h-3zM743.4,351.1h3v3h-3zM749.8,355h3v3h-3zM728.1,359.5h3v3h-3z"/>
<use href="#borders" fill="none" stroke="#969696" stroke-width="1.7" stroke-linejoin="round"/>
<use href="#rivers" fill="none" stroke="#000" stroke-width="2" stroke-linecap="round" stroke-linejoin="round"/>
<use href="#lakes" fill="none" stroke="#000" stroke-width="2.1" stroke-linejoin="round"/>
<path fill="#5d0000" d="M306,61h21v3h-21zM340,64h8v2.5h-8zM361,67h5v2.5h-5zM507,68h6v2.4h-6zM516,70h3v2.4h-3zM527,68h3v2.4h-3z"/>
<use href="#nodata" fill="#fff" stroke="#000" stroke-width="3.2" stroke-linejoin="round"/>
<use href="#land" fill="none" stroke="#000" stroke-width="2.3" stroke-linejoin="round"/>
</g>
<text x="1318.2" y="408.7" font-size="33.5" text-anchor="middle">(d) Late Century (RCP6.0)</text>
<path fill="#b22222" d="M852.7,49.3 L890.4,49.3 L894.3,55.8 L896.9,62.2 L896.9,66.5 L894.3,70.8 L889.8,77.3 L885.2,92.4 L882.6,113.9 L880.7,135.4 L878.1,154.8 L875.5,200 L873.9,232.3 L873.2,275.3 L872.7,309.8 L870.2,333.5 L868,348.5 L865.1,363.6 L862.3,376.5 L852.7,376.5Z"/>
<line x1="852.7" x2="852.7" y1="36" y2="387.6" stroke="#000" stroke-width="2.8"/>
<path fill="#b22222" d="M1782.7,49.3 L1822.4,49.3 L1825.6,57.9 L1830.2,64.4 L1830.8,68.7 L1828.9,73 L1824.3,79.4 L1818.5,92.4 L1813.2,111.7 L1810.7,135.4 L1808.7,167.7 L1806.1,200 L1803.5,243.1 L1801.5,286.1 L1800.4,314.1 L1798.3,333.5 L1795,350.7 L1792.5,367.9 L1791.2,377.6 L1782.7,377.6Z"/>
<line x1="1782.7" x2="1782.7" y1="36" y2="387.6" stroke="#000" stroke-width="2.8"/>
<path fill="#b22222" d="M852.7,432.7 L886.9,432.7 L889.1,439.2 L891.7,445.6 L892.4,451 L891.1,456.4 L887.8,465 L885.2,475.8 L883.2,491.5 L880.7,518.8 L878.4,546.8 L876.8,572.6 L874.8,601.7 L874.8,626.5 L875.5,656.6 L874.5,680.3 L873.2,693.2 L870.2,712.6 L867.4,729.8 L863.8,747 L861.2,761.4 L852.7,761.4Z"/>
<line x1="852.7" x2="852.7" y1="419.4" y2="771" stroke="#000" stroke-width="2.8"/>
<path fill="#b22222" d="M1782.7,432.7 L1867.2,432.7 L1864.6,454.2 L1857.6,460 L1852.2,471.4 L1847.7,482.6 L1841.2,495.1 L1836,507.6 L1832.8,521 L1830.2,532.6 L1825.6,561.9 L1822.6,582.5 L1819.1,607.5 L1819.8,626.5 L1821.7,657.5 L1820.4,676 L1817.5,692.5 L1812,712.6 L1805.1,732.6 L1799.6,747 L1795,757.6 L1789.2,761.4 L1782.7,761.4Z"/>
<line x1="1782.7" x2="1782.7" y1="419.4" y2="771" stroke="#000" stroke-width="2.8"/>
<line x1="774.3" x2="931.7" y1="787.3" y2="787.3" stroke="#000" stroke-width="3"/>
<line x1="787.7" x2="787.7" y1="787.3" y2="801" stroke="#000" stroke-width="3"/>
<text x="787.7" y="835.4" font-size="25" text-anchor="middle">−5</text>
<line x1="852.7" x2="852.7" y1="787.3" y2="801" stroke="#000" stroke-width="3"/>
<text x="852.7" y="835.4" font-size="25" text-anchor="middle">0</text>
<line x1="917.7" x2="917.7" y1="787.3" y2="801" stroke="#000" stroke-width="3"/>
<text x="917.7" y="835.4" font-size="25" text-anchor="middle">5</text>
<line x1="1704.3" x2="1863" y1="787.3" y2="787.3" stroke="#000" stroke-width="3"/>
<line x1="1717.7" x2="1717.7" y1="787.3" y2="801" stroke="#000" stroke-width="3"/>
<text x="1717.7" y="835.4" font-size="25" text-anchor="middle">−5</text>
<line x1="1782.7" x2="1782.7" y1="787.3" y2="801" stroke="#000" stroke-width="3"/>
<text x="1782.7" y="835.4" font-size="25" text-anchor="middle">0</text>
<line x1="1847.7" x2="1847.7" y1="787.3" y2="801" stroke="#000" stroke-width="3"/>
<text x="1847.7" y="835.4" font-size="25" text-anchor="middle">5</text>
<text x="1782.3" y="891.3" font-size="25" text-anchor="middle">(<tspan font-style="italic">K</tspan>)</text>
<rect x="228.6" y="901.8" width="160.5" height="21.4" fill="#fee7d4"/>
<rect x="388.6" y="901.8" width="160.5" height="21.4" fill="#fdba7c"/>
<rect x="548.7" y="901.8" width="160.5" height="21.4" fill="#fd8e25"/>
<rect x="708.7" y="901.8" width="160.5" height="21.4" fill="#fc6003"/>
<rect x="868.8" y="901.8" width="160.5" height="21.4" fill="#e53702"/>
<rect x="1028.8" y="901.8" width="160.5" height="21.4" fill="#c50900"/>
<rect x="1188.9" y="901.8" width="160.5" height="21.4" fill="#a10000"/>
<rect x="1348.9" y="901.8" width="160.5" height="21.4" fill="#7f0000"/>
<rect x="1509" y="901.8" width="160" height="21.4" fill="#5d0000"/>
<rect x="228.6" y="901.8" width="1440.4" height="21.4" fill="none" stroke="#000" stroke-width="2.7"/>
<line x1="228.6" x2="228.6" y1="923.2" y2="937.6" stroke="#000" stroke-width="2.5"/>
<text x="228.6" y="977.8" font-size="32.5" text-anchor="middle">0</text>
<line x1="388.6" x2="388.6" y1="923.2" y2="937.6" stroke="#000" stroke-width="2.5"/>
<text x="388.6" y="977.8" font-size="32.5" text-anchor="middle">0.5</text>
<line x1="548.7" x2="548.7" y1="923.2" y2="937.6" stroke="#000" stroke-width="2.5"/>
<text x="548.7" y="977.8" font-size="32.5" text-anchor="middle">1</text>
<line x1="708.7" x2="708.7" y1="923.2" y2="937.6" stroke="#000" stroke-width="2.5"/>
<text x="708.7" y="977.8" font-size="32.5" text-anchor="middle">1.5</text>
<line x1="868.8" x2="868.8" y1="923.2" y2="937.6" stroke="#000" stroke-width="2.5"/>
<text x="868.8" y="977.8" font-size="32.5" text-anchor="middle">2</text>
<line x1="1028.8" x2="1028.8" y1="923.2" y2="937.6" stroke="#000" stroke-width="2.5"/>
<text x="1028.8" y="977.8" font-size="32.5" text-anchor="middle">2.5</text>
<line x1="1188.9" x2="1188.9" y1="923.2" y2="937.6" stroke="#000" stroke-width="2.5"/>
<text x="1188.9" y="977.8" font-size="32.5" text-anchor="middle">3</text>
<line x1="1348.9" x2="1348.9" y1="923.2" y2="937.6" stroke="#000" stroke-width="2.5"/>
<text x="1348.9" y="977.8" font-size="32.5" text-anchor="middle">3.5</text>
<line x1="1509" x2="1509" y1="923.2" y2="937.6" stroke="#000" stroke-width="2.5"/>
<text x="1509" y="977.8" font-size="32.5" text-anchor="middle">4</text>
<line x1="1669" x2="1669" y1="923.2" y2="937.6" stroke="#000" stroke-width="2.5"/>
<text x="1669" y="977.8" font-size="32.5" text-anchor="middle">>5</text>
<text x="947.8" y="1026.7" font-size="33.5" text-anchor="middle">Absolute Change (K)</text>
</svg></body></html>
